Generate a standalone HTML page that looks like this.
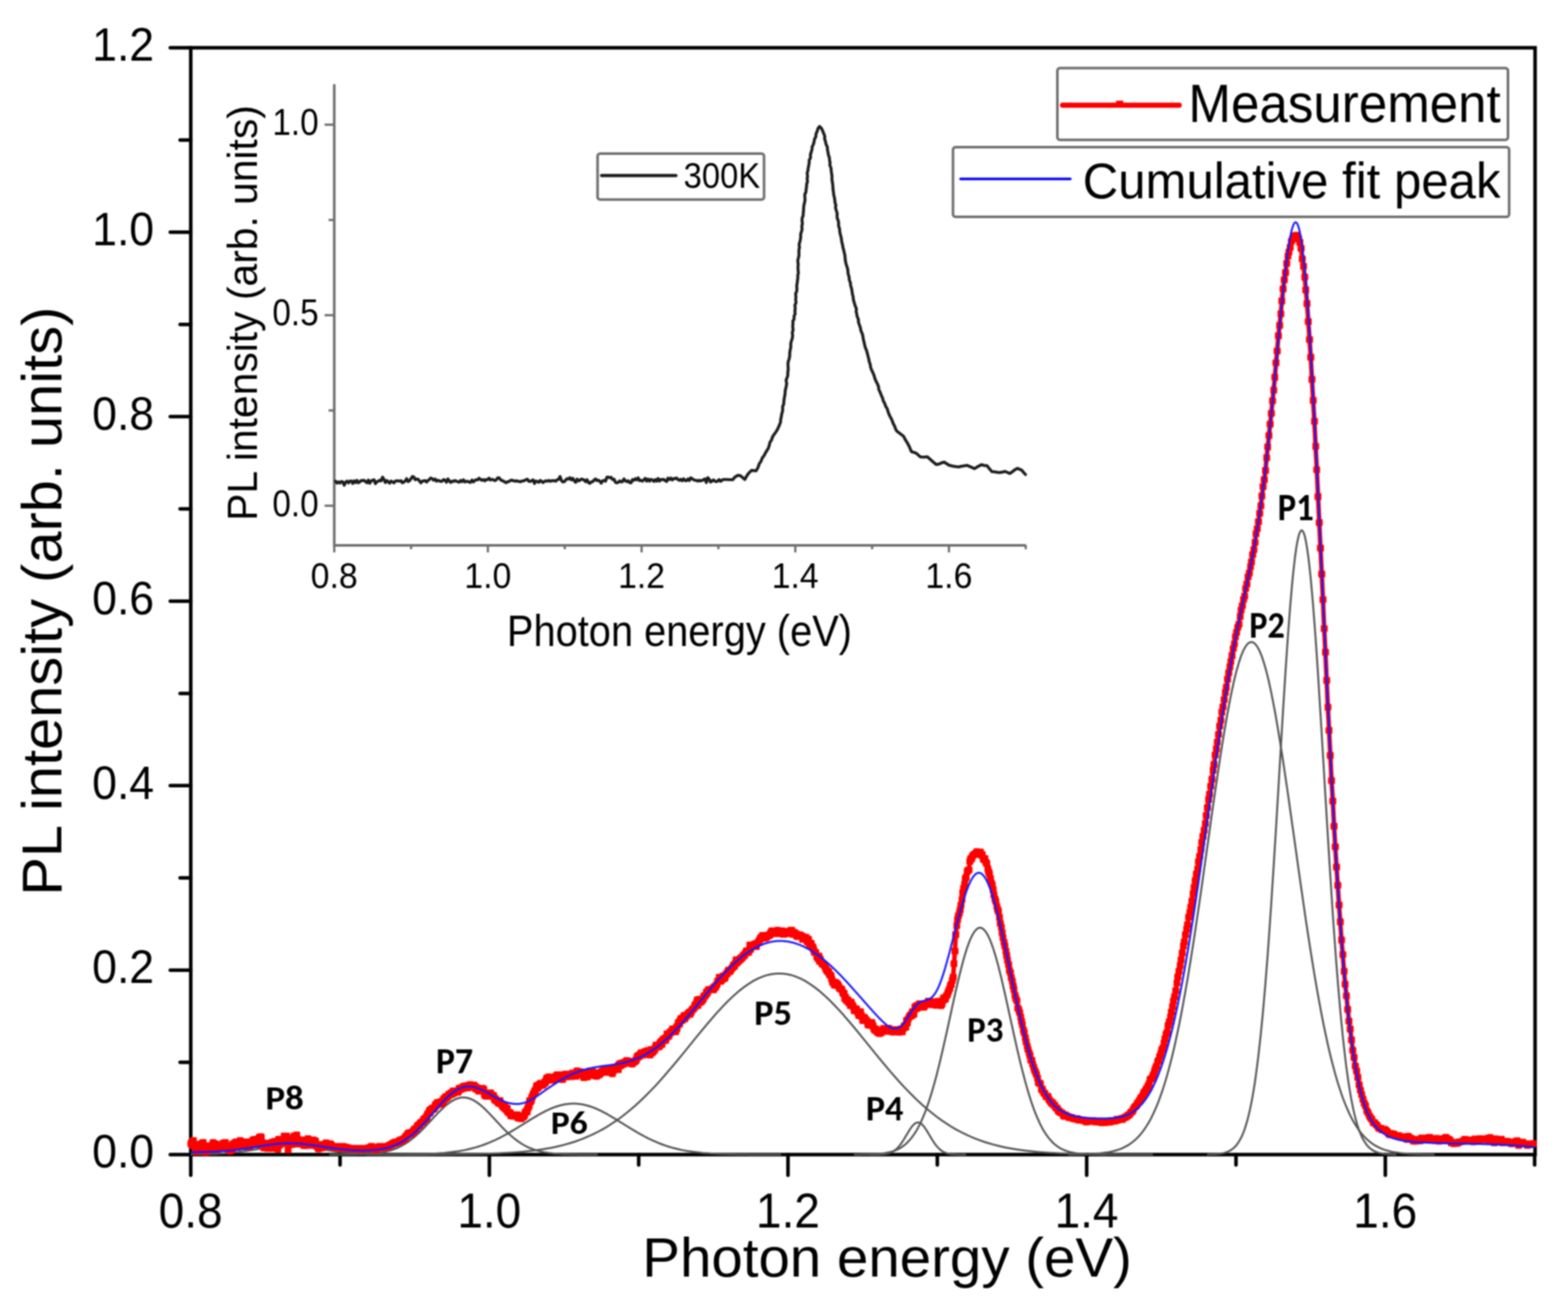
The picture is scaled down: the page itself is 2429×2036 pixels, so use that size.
<!DOCTYPE html>
<html><head><meta charset="utf-8"><style>
html,body{margin:0;padding:0;background:#fff;overflow:hidden;}
svg{display:block;filter:blur(0.9px);}
text{font-family:'Liberation Sans', Arial, sans-serif;fill:#000;}
text.pb{font-family:Carlito, 'Liberation Sans', sans-serif;font-weight:bold;}
</style></head><body>
<svg xmlns="http://www.w3.org/2000/svg" width="2429" height="2036" viewBox="0 0 2429 2036">
<rect width="2429" height="2036" fill="#fff"/>
<rect x="295.5" y="74" width="2082.5" height="1715.0" fill="none" stroke="#000" stroke-width="5.5"/>
<line x1="263.8" y1="1789.0" x2="295.5" y2="1789.0" stroke="#000" stroke-width="5.5" stroke-linecap="round"/>
<line x1="279" y1="1646.1" x2="295.5" y2="1646.1" stroke="#000" stroke-width="5.5" stroke-linecap="round"/>
<line x1="263.8" y1="1503.2" x2="295.5" y2="1503.2" stroke="#000" stroke-width="5.5" stroke-linecap="round"/>
<line x1="279" y1="1360.2" x2="295.5" y2="1360.2" stroke="#000" stroke-width="5.5" stroke-linecap="round"/>
<line x1="263.8" y1="1217.3" x2="295.5" y2="1217.3" stroke="#000" stroke-width="5.5" stroke-linecap="round"/>
<line x1="279" y1="1074.4" x2="295.5" y2="1074.4" stroke="#000" stroke-width="5.5" stroke-linecap="round"/>
<line x1="263.8" y1="931.5" x2="295.5" y2="931.5" stroke="#000" stroke-width="5.5" stroke-linecap="round"/>
<line x1="279" y1="788.6" x2="295.5" y2="788.6" stroke="#000" stroke-width="5.5" stroke-linecap="round"/>
<line x1="263.8" y1="645.6" x2="295.5" y2="645.6" stroke="#000" stroke-width="5.5" stroke-linecap="round"/>
<line x1="279" y1="502.7" x2="295.5" y2="502.7" stroke="#000" stroke-width="5.5" stroke-linecap="round"/>
<line x1="263.8" y1="359.8" x2="295.5" y2="359.8" stroke="#000" stroke-width="5.5" stroke-linecap="round"/>
<line x1="279" y1="216.9" x2="295.5" y2="216.9" stroke="#000" stroke-width="5.5" stroke-linecap="round"/>
<line x1="263.8" y1="74.0" x2="295.5" y2="74.0" stroke="#000" stroke-width="5.5" stroke-linecap="round"/>
<line x1="295.5" y1="1789.0" x2="295.5" y2="1821" stroke="#000" stroke-width="5.5" stroke-linecap="round"/>
<line x1="526.8" y1="1789.0" x2="526.8" y2="1805" stroke="#000" stroke-width="5.5" stroke-linecap="round"/>
<line x1="758.1" y1="1789.0" x2="758.1" y2="1821" stroke="#000" stroke-width="5.5" stroke-linecap="round"/>
<line x1="989.4" y1="1789.0" x2="989.4" y2="1805" stroke="#000" stroke-width="5.5" stroke-linecap="round"/>
<line x1="1220.7" y1="1789.0" x2="1220.7" y2="1821" stroke="#000" stroke-width="5.5" stroke-linecap="round"/>
<line x1="1452.0" y1="1789.0" x2="1452.0" y2="1805" stroke="#000" stroke-width="5.5" stroke-linecap="round"/>
<line x1="1683.4" y1="1789.0" x2="1683.4" y2="1821" stroke="#000" stroke-width="5.5" stroke-linecap="round"/>
<line x1="1914.7" y1="1789.0" x2="1914.7" y2="1805" stroke="#000" stroke-width="5.5" stroke-linecap="round"/>
<line x1="2146.0" y1="1789.0" x2="2146.0" y2="1821" stroke="#000" stroke-width="5.5" stroke-linecap="round"/>
<line x1="2377.3" y1="1789.0" x2="2377.3" y2="1805" stroke="#000" stroke-width="5.5" stroke-linecap="round"/>
<path d="M517.8,132 V845 H1588" fill="none" stroke="#6e6e6e" stroke-width="4" stroke-linecap="round"/>
<line x1="502.8" y1="783.6" x2="517.8" y2="783.6" stroke="#6e6e6e" stroke-width="3.5"/>
<line x1="509" y1="636.0" x2="517.8" y2="636.0" stroke="#6e6e6e" stroke-width="3.5"/>
<line x1="502.8" y1="488.4" x2="517.8" y2="488.4" stroke="#6e6e6e" stroke-width="3.5"/>
<line x1="509" y1="340.8" x2="517.8" y2="340.8" stroke="#6e6e6e" stroke-width="3.5"/>
<line x1="502.8" y1="193.2" x2="517.8" y2="193.2" stroke="#6e6e6e" stroke-width="3.5"/>
<line x1="517.8" y1="845" x2="517.8" y2="856" stroke="#6e6e6e" stroke-width="3.5"/>
<line x1="636.8" y1="845" x2="636.8" y2="851" stroke="#6e6e6e" stroke-width="3.5"/>
<line x1="755.8" y1="845" x2="755.8" y2="856" stroke="#6e6e6e" stroke-width="3.5"/>
<line x1="874.9" y1="845" x2="874.9" y2="851" stroke="#6e6e6e" stroke-width="3.5"/>
<line x1="993.9" y1="845" x2="993.9" y2="856" stroke="#6e6e6e" stroke-width="3.5"/>
<line x1="1112.9" y1="845" x2="1112.9" y2="851" stroke="#6e6e6e" stroke-width="3.5"/>
<line x1="1232.0" y1="845" x2="1232.0" y2="856" stroke="#6e6e6e" stroke-width="3.5"/>
<line x1="1351.0" y1="845" x2="1351.0" y2="851" stroke="#6e6e6e" stroke-width="3.5"/>
<line x1="1470.0" y1="845" x2="1470.0" y2="856" stroke="#6e6e6e" stroke-width="3.5"/>
<line x1="1589.0" y1="845" x2="1589.0" y2="851" stroke="#6e6e6e" stroke-width="3.5"/>
<rect x="925.7" y="237.9" width="257.9" height="71.4" rx="4" fill="#fff" stroke="#6e6e6e" stroke-width="4"/>
<line x1="932" y1="272.1" x2="1047" y2="272.1" stroke="#1a1a1a" stroke-width="5" stroke-linecap="round"/>
<rect x="1638" y="105.5" width="698" height="111.3" rx="4" fill="#fff" stroke="#6e6e6e" stroke-width="4"/>
<line x1="1646" y1="163" x2="1826.7" y2="163" stroke="#ff0000" stroke-width="8" stroke-linecap="round"/>
<rect x="1729" y="156" width="11" height="11" fill="#ff0000"/>
<rect x="1476.3" y="228" width="861.5" height="108" rx="4" fill="#fff" stroke="#6e6e6e" stroke-width="4"/>
<line x1="1488" y1="277.3" x2="1658" y2="277.3" stroke="#0000ff" stroke-width="4" stroke-linecap="round"/>
<defs><marker id="sq" markerUnits="userSpaceOnUse" markerWidth="11" markerHeight="11" refX="5.5" refY="5.5" orient="0"><rect width="11" height="11" rx="2.5" fill="#ff0000"/></marker></defs>
<path d="M1869.7,1788.9 L1871.6,1788.8 L1873.4,1788.8 L1875.3,1788.7 L1877.1,1788.7 L1879.0,1788.6 L1880.8,1788.5 L1882.7,1788.4 L1884.5,1788.2 L1886.4,1788.1 L1888.2,1787.9 L1890.0,1787.6 L1891.9,1787.3 L1893.7,1787.0 L1895.6,1786.6 L1897.4,1786.1 L1899.3,1785.5 L1901.1,1784.8 L1903.0,1784.1 L1904.8,1783.1 L1906.7,1782.1 L1908.5,1780.8 L1910.3,1779.4 L1912.2,1777.8 L1914.0,1775.9 L1915.9,1773.7 L1917.7,1771.2 L1919.6,1768.3 L1921.4,1765.1 L1923.3,1761.5 L1925.1,1757.3 L1927.0,1752.7 L1928.8,1747.5 L1930.6,1741.7 L1932.5,1735.2 L1934.3,1728.0 L1936.2,1720.0 L1938.0,1711.2 L1939.9,1701.6 L1941.7,1690.9 L1943.6,1679.4 L1945.4,1666.8 L1947.2,1653.1 L1949.1,1638.3 L1950.9,1622.4 L1952.8,1605.3 L1954.6,1587.0 L1956.5,1567.5 L1958.3,1546.8 L1960.2,1524.9 L1962.0,1501.8 L1963.9,1477.6 L1965.7,1452.3 L1967.5,1426.0 L1969.4,1398.6 L1971.2,1370.4 L1973.1,1341.4 L1974.9,1311.8 L1976.8,1281.5 L1978.6,1250.9 L1980.5,1220.0 L1982.3,1189.0 L1984.2,1158.1 L1986.0,1127.5 L1987.8,1097.3 L1989.7,1067.7 L1991.5,1038.9 L1993.4,1011.2 L1995.2,984.7 L1997.1,959.7 L1998.9,936.2 L2000.8,914.5 L2002.6,894.7 L2004.5,877.1 L2006.3,861.7 L2008.1,848.7 L2010.0,838.1 L2011.8,830.1 L2013.7,824.7 L2015.5,822.1 L2017.4,822.1 L2019.2,824.7 L2021.1,830.1 L2022.9,838.1 L2024.7,848.7 L2026.6,861.7 L2028.4,877.1 L2030.3,894.7 L2032.1,914.5 L2034.0,936.2 L2035.8,959.7 L2037.7,984.7 L2039.5,1011.2 L2041.4,1038.9 L2043.2,1067.7 L2045.0,1097.3 L2046.9,1127.5 L2048.7,1158.1 L2050.6,1189.0 L2052.4,1220.0 L2054.3,1250.9 L2056.1,1281.5 L2058.0,1311.8 L2059.8,1341.4 L2061.7,1370.4 L2063.5,1398.6 L2065.3,1426.0 L2067.2,1452.3 L2069.0,1477.6 L2070.9,1501.8 L2072.7,1524.9 L2074.6,1546.8 L2076.4,1567.5 L2078.3,1587.0 L2080.1,1605.3 L2082.0,1622.4 L2083.8,1638.3 L2085.6,1653.1 L2087.5,1666.8 L2089.3,1679.4 L2091.2,1690.9 L2093.0,1701.6 L2094.9,1711.2 L2096.7,1720.0 L2098.6,1728.0 L2100.4,1735.2 L2102.3,1741.7 L2104.1,1747.5 L2105.9,1752.7 L2107.8,1757.3 L2109.6,1761.5 L2111.5,1765.1 L2113.3,1768.3 L2115.2,1771.2 L2117.0,1773.7 L2118.9,1775.9 L2120.7,1777.8 L2122.5,1779.4 L2124.4,1780.8 L2126.2,1782.1 L2128.1,1783.1 L2129.9,1784.1 L2131.8,1784.8 L2133.6,1785.5 L2135.5,1786.1 L2137.3,1786.6 L2139.2,1787.0 L2141.0,1787.3 L2142.8,1787.6 L2144.7,1787.9 L2146.5,1788.1 L2148.4,1788.2 L2150.2,1788.4 L2152.1,1788.5 L2153.9,1788.6 L2155.8,1788.7 L2157.6,1788.7 L2159.5,1788.8 L2161.3,1788.8 L2163.1,1788.9" fill="none" stroke="#555" stroke-width="3"/>
<path d="M1654.8,1788.9 L1658.4,1788.9 L1662.0,1788.8 L1665.5,1788.8 L1669.1,1788.7 L1672.7,1788.7 L1676.2,1788.6 L1679.8,1788.5 L1683.4,1788.4 L1686.9,1788.2 L1690.5,1788.1 L1694.1,1787.9 L1697.6,1787.6 L1701.2,1787.3 L1704.8,1787.0 L1708.3,1786.6 L1711.9,1786.1 L1715.5,1785.6 L1719.0,1784.9 L1722.6,1784.2 L1726.2,1783.3 L1729.8,1782.3 L1733.3,1781.1 L1736.9,1779.8 L1740.5,1778.2 L1744.0,1776.4 L1747.6,1774.4 L1751.2,1772.0 L1754.7,1769.4 L1758.3,1766.4 L1761.9,1763.0 L1765.4,1759.2 L1769.0,1754.9 L1772.6,1750.1 L1776.1,1744.8 L1779.7,1738.9 L1783.3,1732.4 L1786.8,1725.1 L1790.4,1717.2 L1794.0,1708.5 L1797.5,1699.0 L1801.1,1688.6 L1804.7,1677.4 L1808.3,1665.2 L1811.8,1652.2 L1815.4,1638.1 L1819.0,1623.1 L1822.5,1607.1 L1826.1,1590.1 L1829.7,1572.1 L1833.2,1553.2 L1836.8,1533.3 L1840.4,1512.5 L1843.9,1490.9 L1847.5,1468.4 L1851.1,1445.3 L1854.6,1421.5 L1858.2,1397.1 L1861.8,1372.3 L1865.3,1347.1 L1868.9,1321.7 L1872.5,1296.3 L1876.0,1270.9 L1879.6,1245.7 L1883.2,1220.9 L1886.8,1196.6 L1890.3,1173.0 L1893.9,1150.3 L1897.5,1128.5 L1901.0,1107.9 L1904.6,1088.7 L1908.2,1070.8 L1911.7,1054.6 L1915.3,1040.1 L1918.9,1027.5 L1922.4,1016.8 L1926.0,1008.1 L1929.6,1001.5 L1933.1,997.1 L1936.7,994.9 L1940.3,994.9 L1943.8,997.1 L1947.4,1001.5 L1951.0,1008.1 L1954.6,1016.8 L1958.1,1027.5 L1961.7,1040.1 L1965.3,1054.6 L1968.8,1070.8 L1972.4,1088.7 L1976.0,1107.9 L1979.5,1128.5 L1983.1,1150.3 L1986.7,1173.0 L1990.2,1196.6 L1993.8,1220.9 L1997.4,1245.7 L2000.9,1270.9 L2004.5,1296.3 L2008.1,1321.7 L2011.6,1347.1 L2015.2,1372.3 L2018.8,1397.1 L2022.3,1421.5 L2025.9,1445.3 L2029.5,1468.4 L2033.1,1490.9 L2036.6,1512.5 L2040.2,1533.3 L2043.8,1553.2 L2047.3,1572.1 L2050.9,1590.1 L2054.5,1607.1 L2058.0,1623.1 L2061.6,1638.1 L2065.2,1652.2 L2068.7,1665.2 L2072.3,1677.4 L2075.9,1688.6 L2079.4,1699.0 L2083.0,1708.5 L2086.6,1717.2 L2090.1,1725.1 L2093.7,1732.4 L2097.3,1738.9 L2100.9,1744.8 L2104.4,1750.1 L2108.0,1754.9 L2111.6,1759.2 L2115.1,1763.0 L2118.7,1766.4 L2122.3,1769.4 L2125.8,1772.0 L2129.4,1774.4 L2133.0,1776.4 L2136.5,1778.2 L2140.1,1779.8 L2143.7,1781.1 L2147.2,1782.3 L2150.8,1783.3 L2154.4,1784.2 L2157.9,1784.9 L2161.5,1785.6 L2165.1,1786.1 L2168.6,1786.6 L2172.2,1787.0 L2175.8,1787.3 L2179.4,1787.6 L2182.9,1787.9 L2186.5,1788.1 L2190.1,1788.2 L2193.6,1788.4 L2197.2,1788.5 L2200.8,1788.6 L2204.3,1788.7 L2207.9,1788.7 L2211.5,1788.8 L2215.0,1788.8 L2218.6,1788.9 L2222.2,1788.9" fill="none" stroke="#555" stroke-width="3"/>
<path d="M1322.9,1788.9 L1325.4,1788.9 L1327.8,1788.9 L1330.3,1788.9 L1332.8,1788.9 L1335.2,1788.8 L1337.7,1788.8 L1340.1,1788.8 L1342.6,1788.7 L1345.0,1788.7 L1347.5,1788.6 L1350.0,1788.5 L1352.4,1788.4 L1354.9,1788.3 L1357.3,1788.1 L1359.8,1787.9 L1362.2,1787.7 L1364.7,1787.5 L1367.1,1787.2 L1369.6,1786.9 L1372.1,1786.5 L1374.5,1786.0 L1377.0,1785.5 L1379.4,1784.9 L1381.9,1784.2 L1384.3,1783.4 L1386.8,1782.5 L1389.3,1781.5 L1391.7,1780.3 L1394.2,1779.0 L1396.6,1777.5 L1399.1,1775.8 L1401.5,1773.9 L1404.0,1771.8 L1406.4,1769.4 L1408.9,1766.8 L1411.4,1763.9 L1413.8,1760.7 L1416.3,1757.2 L1418.7,1753.4 L1421.2,1749.2 L1423.6,1744.6 L1426.1,1739.6 L1428.6,1734.2 L1431.0,1728.4 L1433.5,1722.2 L1435.9,1715.6 L1438.4,1708.5 L1440.8,1701.0 L1443.3,1693.0 L1445.7,1684.6 L1448.2,1675.8 L1450.7,1666.6 L1453.1,1657.0 L1455.6,1647.1 L1458.0,1636.9 L1460.5,1626.3 L1462.9,1615.5 L1465.4,1604.6 L1467.9,1593.4 L1470.3,1582.2 L1472.8,1570.9 L1475.2,1559.7 L1477.7,1548.5 L1480.1,1537.6 L1482.6,1526.8 L1485.0,1516.4 L1487.5,1506.3 L1490.0,1496.7 L1492.4,1487.6 L1494.9,1479.0 L1497.3,1471.1 L1499.8,1464.0 L1502.2,1457.5 L1504.7,1451.9 L1507.2,1447.2 L1509.6,1443.4 L1512.1,1440.5 L1514.5,1438.5 L1517.0,1437.5 L1519.4,1437.5 L1521.9,1438.5 L1524.3,1440.5 L1526.8,1443.4 L1529.3,1447.2 L1531.7,1451.9 L1534.2,1457.5 L1536.6,1464.0 L1539.1,1471.1 L1541.5,1479.0 L1544.0,1487.6 L1546.5,1496.7 L1548.9,1506.3 L1551.4,1516.4 L1553.8,1526.8 L1556.3,1537.6 L1558.7,1548.5 L1561.2,1559.7 L1563.6,1570.9 L1566.1,1582.2 L1568.6,1593.4 L1571.0,1604.6 L1573.5,1615.5 L1575.9,1626.3 L1578.4,1636.9 L1580.8,1647.1 L1583.3,1657.0 L1585.8,1666.6 L1588.2,1675.8 L1590.7,1684.6 L1593.1,1693.0 L1595.6,1701.0 L1598.0,1708.5 L1600.5,1715.6 L1602.9,1722.2 L1605.4,1728.4 L1607.9,1734.2 L1610.3,1739.6 L1612.8,1744.6 L1615.2,1749.2 L1617.7,1753.4 L1620.1,1757.2 L1622.6,1760.7 L1625.1,1763.9 L1627.5,1766.8 L1630.0,1769.4 L1632.4,1771.8 L1634.9,1773.9 L1637.3,1775.8 L1639.8,1777.5 L1642.2,1779.0 L1644.7,1780.3 L1647.2,1781.5 L1649.6,1782.5 L1652.1,1783.4 L1654.5,1784.2 L1657.0,1784.9 L1659.4,1785.5 L1661.9,1786.0 L1664.4,1786.5 L1666.8,1786.9 L1669.3,1787.2 L1671.7,1787.5 L1674.2,1787.7 L1676.6,1787.9 L1679.1,1788.1 L1681.5,1788.3 L1684.0,1788.4 L1686.5,1788.5 L1688.9,1788.6 L1691.4,1788.7 L1693.8,1788.7 L1696.3,1788.8 L1698.7,1788.8 L1701.2,1788.8 L1703.7,1788.9 L1706.1,1788.9 L1708.6,1788.9 L1711.0,1788.9 L1713.5,1788.9" fill="none" stroke="#555" stroke-width="3"/>
<path d="M1347.2,1789.0 L1348.1,1789.0 L1349.1,1789.0 L1350.0,1789.0 L1350.9,1789.0 L1351.9,1789.0 L1352.8,1789.0 L1353.8,1789.0 L1354.7,1789.0 L1355.6,1789.0 L1356.6,1788.9 L1357.5,1788.9 L1358.5,1788.9 L1359.4,1788.9 L1360.3,1788.9 L1361.3,1788.9 L1362.2,1788.8 L1363.2,1788.8 L1364.1,1788.7 L1365.1,1788.7 L1366.0,1788.6 L1366.9,1788.6 L1367.9,1788.5 L1368.8,1788.4 L1369.8,1788.3 L1370.7,1788.2 L1371.6,1788.1 L1372.6,1787.9 L1373.5,1787.8 L1374.5,1787.6 L1375.4,1787.4 L1376.3,1787.1 L1377.3,1786.9 L1378.2,1786.6 L1379.2,1786.2 L1380.1,1785.9 L1381.0,1785.5 L1382.0,1785.0 L1382.9,1784.5 L1383.9,1784.0 L1384.8,1783.4 L1385.8,1782.7 L1386.7,1782.0 L1387.6,1781.3 L1388.6,1780.4 L1389.5,1779.6 L1390.5,1778.6 L1391.4,1777.6 L1392.3,1776.5 L1393.3,1775.4 L1394.2,1774.2 L1395.2,1773.0 L1396.1,1771.7 L1397.0,1770.3 L1398.0,1768.9 L1398.9,1767.5 L1399.9,1766.0 L1400.8,1764.5 L1401.7,1762.9 L1402.7,1761.3 L1403.6,1759.7 L1404.6,1758.2 L1405.5,1756.6 L1406.5,1755.0 L1407.4,1753.4 L1408.3,1751.9 L1409.3,1750.4 L1410.2,1749.0 L1411.2,1747.6 L1412.1,1746.4 L1413.0,1745.1 L1414.0,1744.0 L1414.9,1743.0 L1415.9,1742.1 L1416.8,1741.3 L1417.7,1740.6 L1418.7,1740.1 L1419.6,1739.7 L1420.6,1739.4 L1421.5,1739.3 L1422.5,1739.3 L1423.4,1739.4 L1424.3,1739.7 L1425.3,1740.1 L1426.2,1740.6 L1427.2,1741.3 L1428.1,1742.1 L1429.0,1743.0 L1430.0,1744.0 L1430.9,1745.1 L1431.9,1746.4 L1432.8,1747.6 L1433.7,1749.0 L1434.7,1750.4 L1435.6,1751.9 L1436.6,1753.4 L1437.5,1755.0 L1438.4,1756.6 L1439.4,1758.2 L1440.3,1759.7 L1441.3,1761.3 L1442.2,1762.9 L1443.2,1764.5 L1444.1,1766.0 L1445.0,1767.5 L1446.0,1768.9 L1446.9,1770.3 L1447.9,1771.7 L1448.8,1773.0 L1449.7,1774.2 L1450.7,1775.4 L1451.6,1776.5 L1452.6,1777.6 L1453.5,1778.6 L1454.4,1779.6 L1455.4,1780.4 L1456.3,1781.3 L1457.3,1782.0 L1458.2,1782.7 L1459.1,1783.4 L1460.1,1784.0 L1461.0,1784.5 L1462.0,1785.0 L1462.9,1785.5 L1463.9,1785.9 L1464.8,1786.2 L1465.7,1786.6 L1466.7,1786.9 L1467.6,1787.1 L1468.6,1787.4 L1469.5,1787.6 L1470.4,1787.8 L1471.4,1787.9 L1472.3,1788.1 L1473.3,1788.2 L1474.2,1788.3 L1475.1,1788.4 L1476.1,1788.5 L1477.0,1788.6 L1478.0,1788.6 L1478.9,1788.7 L1479.8,1788.7 L1480.8,1788.8 L1481.7,1788.8 L1482.7,1788.9 L1483.6,1788.9 L1484.6,1788.9 L1485.5,1788.9 L1486.4,1788.9 L1487.4,1788.9 L1488.3,1789.0 L1489.3,1789.0 L1490.2,1789.0 L1491.1,1789.0 L1492.1,1789.0 L1493.0,1789.0 L1494.0,1789.0 L1494.9,1789.0 L1495.8,1789.0 L1496.8,1789.0" fill="none" stroke="#555" stroke-width="3"/>
<path d="M628.1,1789.0 L635.4,1788.9 L642.6,1788.9 L649.9,1788.9 L657.2,1788.9 L664.5,1788.9 L671.8,1788.9 L679.1,1788.8 L686.3,1788.8 L693.6,1788.7 L700.9,1788.7 L708.2,1788.6 L715.5,1788.5 L722.8,1788.4 L730.0,1788.3 L737.3,1788.2 L744.6,1788.0 L751.9,1787.8 L759.2,1787.6 L766.5,1787.3 L773.7,1787.0 L781.0,1786.6 L788.3,1786.2 L795.6,1785.7 L802.9,1785.2 L810.2,1784.6 L817.4,1783.8 L824.7,1783.0 L832.0,1782.1 L839.3,1781.0 L846.6,1779.8 L853.9,1778.5 L861.1,1777.0 L868.4,1775.3 L875.7,1773.4 L883.0,1771.3 L890.3,1769.0 L897.6,1766.4 L904.8,1763.6 L912.1,1760.5 L919.4,1757.2 L926.7,1753.5 L934.0,1749.6 L941.3,1745.3 L948.5,1740.6 L955.8,1735.7 L963.1,1730.4 L970.4,1724.7 L977.7,1718.7 L985.0,1712.4 L992.2,1705.7 L999.5,1698.6 L1006.8,1691.3 L1014.1,1683.7 L1021.4,1675.7 L1028.7,1667.5 L1035.9,1659.1 L1043.2,1650.5 L1050.5,1641.7 L1057.8,1632.9 L1065.1,1623.9 L1072.4,1614.9 L1079.6,1605.9 L1086.9,1597.0 L1094.2,1588.3 L1101.5,1579.7 L1108.8,1571.3 L1116.1,1563.3 L1123.3,1555.6 L1130.6,1548.3 L1137.9,1541.5 L1145.2,1535.2 L1152.5,1529.5 L1159.8,1524.4 L1167.0,1519.9 L1174.3,1516.1 L1181.6,1513.1 L1188.9,1510.7 L1196.2,1509.2 L1203.5,1508.4 L1210.7,1508.4 L1218.0,1509.2 L1225.3,1510.7 L1232.6,1513.1 L1239.9,1516.1 L1247.2,1519.9 L1254.4,1524.4 L1261.7,1529.5 L1269.0,1535.2 L1276.3,1541.5 L1283.6,1548.3 L1290.8,1555.6 L1298.1,1563.3 L1305.4,1571.3 L1312.7,1579.7 L1320.0,1588.3 L1327.3,1597.0 L1334.5,1605.9 L1341.8,1614.9 L1349.1,1623.9 L1356.4,1632.9 L1363.7,1641.7 L1371.0,1650.5 L1378.2,1659.1 L1385.5,1667.5 L1392.8,1675.7 L1400.1,1683.7 L1407.4,1691.3 L1414.7,1698.6 L1421.9,1705.7 L1429.2,1712.4 L1436.5,1718.7 L1443.8,1724.7 L1451.1,1730.4 L1458.4,1735.7 L1465.6,1740.6 L1472.9,1745.3 L1480.2,1749.6 L1487.5,1753.5 L1494.8,1757.2 L1502.1,1760.5 L1509.3,1763.6 L1516.6,1766.4 L1523.9,1769.0 L1531.2,1771.3 L1538.5,1773.4 L1545.8,1775.3 L1553.0,1777.0 L1560.3,1778.5 L1567.6,1779.8 L1574.9,1781.0 L1582.2,1782.1 L1589.5,1783.0 L1596.7,1783.8 L1604.0,1784.6 L1611.3,1785.2 L1618.6,1785.7 L1625.9,1786.2 L1633.2,1786.6 L1640.4,1787.0 L1647.7,1787.3 L1655.0,1787.6 L1662.3,1787.8 L1669.6,1788.0 L1676.9,1788.2 L1684.1,1788.3 L1691.4,1788.4 L1698.7,1788.5 L1706.0,1788.6 L1713.3,1788.7 L1720.6,1788.7 L1727.8,1788.8 L1735.1,1788.8 L1742.4,1788.9 L1749.7,1788.9 L1757.0,1788.9 L1764.3,1788.9 L1771.5,1788.9 L1778.8,1788.9 L1786.1,1789.0" fill="none" stroke="#555" stroke-width="3"/>
<path d="M566.8,1789.0 L570.8,1789.0 L574.9,1789.0 L578.9,1789.0 L583.0,1789.0 L587.0,1789.0 L591.0,1789.0 L595.1,1788.9 L599.1,1788.9 L603.2,1788.9 L607.2,1788.9 L611.3,1788.9 L615.3,1788.9 L619.4,1788.8 L623.4,1788.8 L627.5,1788.8 L631.5,1788.7 L635.5,1788.7 L639.6,1788.6 L643.6,1788.5 L647.7,1788.4 L651.7,1788.3 L655.8,1788.2 L659.8,1788.1 L663.9,1787.9 L667.9,1787.7 L671.9,1787.5 L676.0,1787.3 L680.0,1787.0 L684.1,1786.7 L688.1,1786.4 L692.2,1786.0 L696.2,1785.6 L700.3,1785.1 L704.3,1784.6 L708.4,1784.0 L712.4,1783.4 L716.4,1782.6 L720.5,1781.9 L724.5,1781.0 L728.6,1780.0 L732.6,1779.0 L736.7,1777.9 L740.7,1776.7 L744.8,1775.4 L748.8,1774.0 L752.8,1772.5 L756.9,1770.9 L760.9,1769.2 L765.0,1767.4 L769.0,1765.5 L773.1,1763.6 L777.1,1761.5 L781.2,1759.3 L785.2,1757.1 L789.2,1754.8 L793.3,1752.4 L797.3,1750.0 L801.4,1747.5 L805.4,1745.0 L809.5,1742.5 L813.5,1740.0 L817.6,1737.5 L821.6,1734.9 L825.7,1732.5 L829.7,1730.1 L833.7,1727.7 L837.8,1725.4 L841.8,1723.3 L845.9,1721.2 L849.9,1719.3 L854.0,1717.5 L858.0,1715.9 L862.1,1714.5 L866.1,1713.2 L870.1,1712.2 L874.2,1711.3 L878.2,1710.7 L882.3,1710.2 L886.3,1710.0 L890.4,1710.0 L894.4,1710.2 L898.5,1710.7 L902.5,1711.3 L906.5,1712.2 L910.6,1713.2 L914.6,1714.5 L918.7,1715.9 L922.7,1717.5 L926.8,1719.3 L930.8,1721.2 L934.9,1723.3 L938.9,1725.4 L943.0,1727.7 L947.0,1730.1 L951.0,1732.5 L955.1,1734.9 L959.1,1737.5 L963.2,1740.0 L967.2,1742.5 L971.3,1745.0 L975.3,1747.5 L979.4,1750.0 L983.4,1752.4 L987.4,1754.8 L991.5,1757.1 L995.5,1759.3 L999.6,1761.5 L1003.6,1763.6 L1007.7,1765.5 L1011.7,1767.4 L1015.8,1769.2 L1019.8,1770.9 L1023.9,1772.5 L1027.9,1774.0 L1031.9,1775.4 L1036.0,1776.7 L1040.0,1777.9 L1044.1,1779.0 L1048.1,1780.0 L1052.2,1781.0 L1056.2,1781.9 L1060.3,1782.6 L1064.3,1783.4 L1068.3,1784.0 L1072.4,1784.6 L1076.4,1785.1 L1080.5,1785.6 L1084.5,1786.0 L1088.6,1786.4 L1092.6,1786.7 L1096.7,1787.0 L1100.7,1787.3 L1104.7,1787.5 L1108.8,1787.7 L1112.8,1787.9 L1116.9,1788.1 L1120.9,1788.2 L1125.0,1788.3 L1129.0,1788.4 L1133.1,1788.5 L1137.1,1788.6 L1141.2,1788.7 L1145.2,1788.7 L1149.2,1788.8 L1153.3,1788.8 L1157.3,1788.8 L1161.4,1788.9 L1165.4,1788.9 L1169.5,1788.9 L1173.5,1788.9 L1177.6,1788.9 L1181.6,1788.9 L1185.6,1789.0 L1189.7,1789.0 L1193.7,1789.0 L1197.8,1789.0 L1201.8,1789.0 L1205.9,1789.0 L1209.9,1789.0" fill="none" stroke="#555" stroke-width="3"/>
<path d="M510.0,1789.0 L512.6,1789.0 L515.2,1789.0 L517.8,1789.0 L520.4,1789.0 L523.0,1789.0 L525.7,1789.0 L528.3,1788.9 L530.9,1788.9 L533.5,1788.9 L536.1,1788.9 L538.7,1788.9 L541.4,1788.8 L544.0,1788.8 L546.6,1788.8 L549.2,1788.7 L551.8,1788.7 L554.4,1788.6 L557.0,1788.5 L559.7,1788.5 L562.3,1788.4 L564.9,1788.3 L567.5,1788.1 L570.1,1788.0 L572.7,1787.8 L575.3,1787.6 L578.0,1787.4 L580.6,1787.1 L583.2,1786.8 L585.8,1786.5 L588.4,1786.1 L591.0,1785.7 L593.7,1785.2 L596.3,1784.7 L598.9,1784.1 L601.5,1783.4 L604.1,1782.7 L606.7,1781.9 L609.3,1781.0 L612.0,1780.0 L614.6,1779.0 L617.2,1777.8 L619.8,1776.6 L622.4,1775.2 L625.0,1773.8 L627.7,1772.2 L630.3,1770.5 L632.9,1768.7 L635.5,1766.8 L638.1,1764.8 L640.7,1762.7 L643.3,1760.5 L646.0,1758.2 L648.6,1755.8 L651.2,1753.3 L653.8,1750.7 L656.4,1748.1 L659.0,1745.4 L661.6,1742.6 L664.3,1739.8 L666.9,1737.0 L669.5,1734.1 L672.1,1731.3 L674.7,1728.5 L677.3,1725.7 L680.0,1723.0 L682.6,1720.4 L685.2,1717.9 L687.8,1715.4 L690.4,1713.1 L693.0,1711.0 L695.6,1709.0 L698.3,1707.2 L700.9,1705.6 L703.5,1704.2 L706.1,1703.0 L708.7,1702.0 L711.3,1701.3 L713.9,1700.8 L716.6,1700.6 L719.2,1700.6 L721.8,1700.8 L724.4,1701.3 L727.0,1702.0 L729.6,1703.0 L732.3,1704.2 L734.9,1705.6 L737.5,1707.2 L740.1,1709.0 L742.7,1711.0 L745.3,1713.1 L747.9,1715.4 L750.6,1717.9 L753.2,1720.4 L755.8,1723.0 L758.4,1725.7 L761.0,1728.5 L763.6,1731.3 L766.3,1734.1 L768.9,1737.0 L771.5,1739.8 L774.1,1742.6 L776.7,1745.4 L779.3,1748.1 L781.9,1750.7 L784.6,1753.3 L787.2,1755.8 L789.8,1758.2 L792.4,1760.5 L795.0,1762.7 L797.6,1764.8 L800.2,1766.8 L802.9,1768.7 L805.5,1770.5 L808.1,1772.2 L810.7,1773.8 L813.3,1775.2 L815.9,1776.6 L818.6,1777.8 L821.2,1779.0 L823.8,1780.0 L826.4,1781.0 L829.0,1781.9 L831.6,1782.7 L834.2,1783.4 L836.9,1784.1 L839.5,1784.7 L842.1,1785.2 L844.7,1785.7 L847.3,1786.1 L849.9,1786.5 L852.6,1786.8 L855.2,1787.1 L857.8,1787.4 L860.4,1787.6 L863.0,1787.8 L865.6,1788.0 L868.2,1788.1 L870.9,1788.3 L873.5,1788.4 L876.1,1788.5 L878.7,1788.5 L881.3,1788.6 L883.9,1788.7 L886.5,1788.7 L889.2,1788.8 L891.8,1788.8 L894.4,1788.8 L897.0,1788.9 L899.6,1788.9 L902.2,1788.9 L904.9,1788.9 L907.5,1788.9 L910.1,1789.0 L912.7,1789.0 L915.3,1789.0 L917.9,1789.0 L920.5,1789.0 L923.2,1789.0 L925.8,1789.0" fill="none" stroke="#555" stroke-width="3"/>
<path d="M295.5,1788.8 L297.8,1788.8 L300.1,1788.8 L302.4,1788.8 L304.7,1788.7 L307.0,1788.7 L309.3,1788.7 L311.6,1788.6 L313.9,1788.6 L316.2,1788.5 L318.5,1788.5 L320.8,1788.4 L323.2,1788.3 L325.5,1788.3 L327.8,1788.2 L330.1,1788.1 L332.4,1788.0 L334.7,1787.9 L337.0,1787.8 L339.3,1787.6 L341.6,1787.5 L343.9,1787.3 L346.2,1787.2 L348.5,1787.0 L350.8,1786.8 L353.1,1786.6 L355.4,1786.4 L357.7,1786.2 L360.0,1786.0 L362.3,1785.7 L364.6,1785.5 L366.9,1785.2 L369.2,1784.9 L371.5,1784.6 L373.8,1784.3 L376.2,1784.0 L378.5,1783.7 L380.8,1783.4 L383.1,1783.0 L385.4,1782.7 L387.7,1782.3 L390.0,1781.9 L392.3,1781.6 L394.6,1781.2 L396.9,1780.8 L399.2,1780.5 L401.5,1780.1 L403.8,1779.7 L406.1,1779.4 L408.4,1779.0 L410.7,1778.6 L413.0,1778.3 L415.3,1778.0 L417.6,1777.7 L419.9,1777.4 L422.2,1777.1 L424.5,1776.8 L426.8,1776.6 L429.2,1776.3 L431.5,1776.1 L433.8,1776.0 L436.1,1775.8 L438.4,1775.7 L440.7,1775.6 L443.0,1775.5 L445.3,1775.4 L447.6,1775.4 L449.9,1775.4 L452.2,1775.5 L454.5,1775.5 L456.8,1775.6 L459.1,1775.7 L461.4,1775.9 L463.7,1776.0 L466.0,1776.2 L468.3,1776.4 L470.6,1776.7 L472.9,1776.9 L475.2,1777.2 L477.5,1777.5 L479.8,1777.8 L482.2,1778.1 L484.5,1778.5 L486.8,1778.8 L489.1,1779.2 L491.4,1779.5 L493.7,1779.9 L496.0,1780.3 L498.3,1780.6 L500.6,1781.0 L502.9,1781.4 L505.2,1781.8 L507.5,1782.1 L509.8,1782.5 L512.1,1782.8 L514.4,1783.2 L516.7,1783.5 L519.0,1783.9 L521.3,1784.2 L523.6,1784.5 L525.9,1784.8 L528.2,1785.1 L530.5,1785.3 L532.9,1785.6 L535.2,1785.9 L537.5,1786.1 L539.8,1786.3 L542.1,1786.5 L544.4,1786.7 L546.7,1786.9 L549.0,1787.1 L551.3,1787.3 L553.6,1787.4 L555.9,1787.6 L558.2,1787.7 L560.5,1787.8 L562.8,1787.9 L565.1,1788.0 L567.4,1788.1 L569.7,1788.2 L572.0,1788.3 L574.3,1788.4 L576.6,1788.4 L578.9,1788.5 L581.2,1788.6 L583.5,1788.6 L585.9,1788.7 L588.2,1788.7 L590.5,1788.7 L592.8,1788.8 L595.1,1788.8 L597.4,1788.8 L599.7,1788.8 L602.0,1788.9 L604.3,1788.9 L606.6,1788.9 L608.9,1788.9 L611.2,1788.9 L613.5,1788.9 L615.8,1788.9 L618.1,1788.9 L620.4,1789.0 L622.7,1789.0 L625.0,1789.0 L627.3,1789.0 L629.6,1789.0 L631.9,1789.0 L634.2,1789.0 L636.5,1789.0 L638.9,1789.0 L641.2,1789.0 L643.5,1789.0 L645.8,1789.0 L648.1,1789.0 L650.4,1789.0 L652.7,1789.0 L655.0,1789.0 L657.3,1789.0 L659.6,1789.0 L661.9,1789.0" fill="none" stroke="#555" stroke-width="3"/>
<path d="M295.9,1772.3 L296.4,1770.8 L296.9,1771.2 L297.4,1774.1 L297.9,1774.1 L298.4,1773.8 L298.9,1768.6 L299.4,1767.2 L299.9,1773.3 L300.4,1774.3 L300.9,1773.4 L301.4,1776.7 L301.9,1776.4 L302.4,1779.6 L302.9,1780.4 L303.4,1779.4 L304.0,1784.4 L304.5,1781.4 L305.0,1783.7 L305.5,1781.1 L306.0,1781.4 L306.5,1777.7 L307.0,1779.8 L307.5,1773.4 L308.0,1774.1 L308.5,1775.4 L309.0,1780.8 L309.5,1776.1 L310.0,1775.3 L310.6,1772.9 L311.1,1775.5 L311.6,1772.8 L312.1,1775.8 L312.6,1777.3 L313.1,1771.6 L313.6,1775.9 L314.1,1772.2 L314.6,1770.4 L315.2,1777.6 L315.7,1778.5 L316.2,1777.4 L316.7,1778.7 L317.2,1781.3 L317.7,1778.9 L318.2,1775.7 L318.7,1785.2 L319.3,1780.6 L319.8,1779.6 L320.3,1781.2 L320.8,1775.7 L321.3,1778.7 L321.8,1783.1 L322.3,1779.2 L322.9,1779.9 L323.4,1781.6 L323.9,1778.1 L324.4,1780.9 L324.9,1778.5 L325.5,1777.3 L326.0,1779.6 L326.5,1775.8 L327.0,1777.7 L327.5,1776.5 L328.0,1780.4 L328.6,1778.7 L329.1,1775.9 L329.6,1773.4 L330.1,1770.6 L330.6,1777.9 L331.2,1778.0 L331.7,1774.9 L332.2,1778.8 L332.7,1775.8 L333.3,1775.0 L333.8,1772.4 L334.3,1775.0 L334.8,1779.6 L335.3,1778.8 L335.9,1779.0 L336.4,1777.2 L336.9,1781.2 L337.4,1779.3 L338.0,1779.2 L338.5,1779.5 L339.0,1778.4 L339.5,1779.9 L340.1,1777.7 L340.6,1779.0 L341.1,1773.9 L341.6,1775.4 L342.2,1777.5 L342.7,1776.0 L343.2,1778.6 L343.8,1774.8 L344.3,1775.7 L344.8,1774.0 L345.3,1776.7 L345.9,1771.1 L346.4,1775.9 L346.9,1774.4 L347.5,1771.1 L348.0,1774.1 L348.5,1773.8 L349.0,1770.3 L349.6,1776.9 L350.1,1775.6 L350.6,1775.7 L351.2,1775.0 L351.7,1778.4 L352.2,1778.3 L352.8,1777.1 L353.3,1776.2 L353.8,1780.7 L354.4,1779.0 L354.9,1780.0 L355.4,1782.3 L356.0,1780.3 L356.5,1783.6 L357.0,1777.3 L357.6,1779.0 L358.1,1777.9 L358.6,1777.2 L359.2,1776.6 L359.7,1781.6 L360.3,1778.2 L360.8,1772.6 L361.3,1777.4 L361.9,1773.0 L362.4,1776.3 L362.9,1772.0 L363.5,1774.1 L364.0,1770.8 L364.6,1770.7 L365.1,1776.1 L365.6,1769.9 L366.2,1769.3 L366.7,1774.1 L367.3,1775.5 L367.8,1775.6 L368.3,1777.3 L368.9,1772.7 L369.4,1776.6 L370.0,1773.9 L370.5,1775.8 L371.1,1774.8 L371.6,1773.3 L372.1,1767.4 L372.7,1770.4 L373.2,1769.6 L373.8,1771.2 L374.3,1773.4 L374.9,1772.1 L375.4,1775.0 L376.0,1772.7 L376.5,1773.5 L377.1,1773.8 L377.6,1776.4 L378.1,1775.4 L378.7,1769.9 L379.2,1773.2 L379.8,1774.7 L380.3,1769.8 L380.9,1769.0 L381.4,1775.3 L382.0,1774.0 L382.5,1773.5 L383.1,1775.4 L383.6,1771.0 L384.2,1772.1 L384.7,1771.5 L385.3,1776.3 L385.8,1773.3 L386.4,1776.6 L386.9,1773.5 L387.5,1774.0 L388.0,1774.7 L388.6,1769.1 L389.2,1773.9 L389.7,1772.5 L390.3,1770.1 L390.8,1769.8 L391.4,1769.5 L391.9,1766.6 L392.5,1771.4 L393.0,1770.3 L393.6,1768.9 L394.1,1765.6 L394.7,1767.7 L395.3,1769.4 L395.8,1772.9 L396.4,1773.7 L396.9,1769.0 L397.5,1769.2 L398.1,1771.4 L398.6,1770.3 L399.2,1769.9 L399.7,1768.4 L400.3,1766.1 L400.8,1768.2 L401.4,1762.9 L402.0,1769.5 L402.5,1761.8 L403.1,1764.8 L403.7,1763.2 L404.2,1761.6 L404.8,1763.1 L405.3,1771.5 L405.9,1775.0 L406.5,1770.3 L407.0,1775.8 L407.6,1774.7 L408.2,1772.3 L408.7,1778.0 L409.3,1778.5 L409.9,1772.9 L410.4,1773.1 L411.0,1772.7 L411.5,1772.8 L412.1,1774.8 L412.7,1776.9 L413.2,1772.3 L413.8,1777.1 L414.4,1779.3 L415.0,1774.7 L415.5,1775.2 L416.1,1771.3 L416.7,1773.0 L417.2,1771.9 L417.8,1774.5 L418.4,1775.5 L418.9,1773.0 L419.5,1774.5 L420.1,1771.4 L420.7,1771.6 L421.2,1769.9 L421.8,1779.3 L422.4,1771.6 L422.9,1773.1 L423.5,1771.7 L424.1,1774.5 L424.7,1771.7 L425.2,1768.8 L425.8,1772.3 L426.4,1772.7 L427.0,1775.4 L427.5,1772.6 L428.1,1772.1 L428.7,1778.7 L429.3,1772.6 L429.8,1776.8 L430.4,1780.4 L431.0,1771.9 L431.6,1765.4 L432.1,1768.1 L432.7,1769.8 L433.3,1774.3 L433.9,1766.9 L434.5,1770.3 L435.0,1771.5 L435.6,1770.3 L436.2,1768.7 L436.8,1766.0 L437.4,1765.4 L437.9,1767.8 L438.5,1771.4 L439.1,1765.8 L439.7,1766.8 L440.3,1760.1 L440.9,1765.6 L441.4,1765.1 L442.0,1765.0 L442.6,1770.0 L443.2,1763.1 L443.8,1760.4 L444.4,1768.3 L445.0,1767.6 L445.5,1771.9 L446.1,1781.4 L446.7,1771.9 L447.3,1773.4 L447.9,1772.9 L448.5,1773.2 L449.1,1773.5 L449.6,1773.5 L450.2,1770.6 L450.8,1769.4 L451.4,1767.8 L452.0,1763.4 L452.6,1769.0 L453.2,1768.3 L453.8,1773.0 L454.4,1763.7 L455.0,1762.5 L455.5,1760.2 L456.1,1762.2 L456.7,1765.3 L457.3,1764.6 L457.9,1763.4 L458.5,1763.9 L459.1,1763.2 L459.7,1758.8 L460.3,1763.8 L460.9,1766.9 L461.5,1768.6 L462.1,1770.5 L462.7,1767.3 L463.3,1772.9 L463.9,1771.4 L464.5,1771.6 L465.1,1772.5 L465.7,1767.8 L466.3,1766.1 L466.9,1769.3 L467.5,1767.5 L468.1,1767.0 L468.7,1766.3 L469.3,1772.1 L469.9,1771.2 L470.5,1774.6 L471.1,1771.1 L471.7,1775.1 L472.3,1770.6 L472.9,1768.5 L473.5,1772.4 L474.1,1772.0 L474.7,1770.4 L475.3,1771.3 L475.9,1773.2 L476.5,1769.2 L477.1,1764.5 L477.7,1770.0 L478.3,1771.7 L478.9,1773.9 L479.5,1771.2 L480.1,1774.8 L480.7,1774.3 L481.3,1768.6 L481.9,1774.0 L482.5,1769.7 L483.2,1771.2 L483.8,1771.3 L484.4,1769.2 L485.0,1766.1 L485.6,1770.7 L486.2,1772.1 L486.8,1772.4 L487.4,1770.1 L488.0,1767.7 L488.6,1768.2 L489.3,1775.0 L489.9,1775.7 L490.5,1774.2 L491.1,1773.2 L491.7,1774.3 L492.3,1778.1 L492.9,1777.6 L493.5,1780.0 L494.2,1778.8 L494.8,1776.5 L495.4,1777.1 L496.0,1776.3 L496.6,1773.8 L497.2,1776.0 L497.9,1774.6 L498.5,1778.5 L499.1,1773.9 L499.7,1777.5 L500.3,1777.4 L500.9,1773.0 L501.6,1773.3 L502.2,1774.6 L502.8,1777.2 L503.4,1774.5 L504.0,1774.2 L504.7,1771.8 L505.3,1770.9 L505.9,1774.2 L506.5,1775.2 L507.2,1775.7 L507.8,1774.7 L508.4,1774.2 L509.0,1775.1 L509.6,1774.0 L510.3,1775.7 L510.9,1772.5 L511.5,1772.4 L512.1,1773.1 L512.8,1774.5 L513.4,1774.3 L514.0,1775.7 L514.7,1776.1 L515.3,1776.2 L515.9,1776.8 L516.5,1777.8 L517.2,1777.1 L517.8,1777.9 L518.4,1778.1 L519.1,1777.2 L519.7,1778.2 L520.3,1777.2 L520.9,1776.6 L521.6,1776.7 L522.2,1777.1 L522.8,1776.9 L523.5,1777.5 L524.1,1778.0 L524.7,1777.9 L525.4,1777.2 L526.0,1777.9 L526.6,1779.5 L527.3,1777.5 L527.9,1777.4 L528.5,1776.5 L529.2,1777.5 L529.8,1777.8 L530.5,1778.2 L531.1,1776.1 L531.7,1777.6 L532.4,1777.0 L533.0,1778.4 L533.6,1778.4 L534.3,1779.3 L534.9,1778.5 L535.6,1777.4 L536.2,1779.2 L536.8,1778.0 L537.5,1778.6 L538.1,1779.2 L538.8,1779.0 L539.4,1779.1 L540.0,1778.8 L540.7,1779.1 L541.3,1779.4 L542.0,1779.1 L542.6,1780.1 L543.3,1780.1 L543.9,1779.7 L544.6,1779.0 L545.2,1780.2 L545.8,1779.9 L546.5,1780.5 L547.1,1780.9 L547.8,1780.0 L548.4,1780.8 L549.1,1779.7 L549.7,1780.8 L550.4,1780.3 L551.0,1780.8 L551.7,1780.7 L552.3,1779.9 L553.0,1780.2 L553.6,1779.5 L554.3,1779.6 L554.9,1780.5 L555.6,1780.1 L556.2,1780.1 L556.9,1779.4 L557.5,1780.6 L558.2,1780.2 L558.9,1781.0 L559.5,1779.2 L560.2,1780.3 L560.8,1780.5 L561.5,1779.2 L562.1,1779.2 L562.8,1780.7 L563.4,1780.5 L564.1,1779.8 L564.8,1780.2 L565.4,1780.1 L566.1,1780.8 L566.7,1780.7 L567.4,1780.2 L568.1,1780.4 L568.7,1780.0 L569.4,1780.7 L570.0,1780.9 L570.7,1780.7 L571.4,1778.3 L572.0,1779.4 L572.7,1778.8 L573.3,1778.5 L574.0,1778.0 L574.7,1777.4 L575.3,1776.3 L576.0,1778.0 L576.7,1778.7 L577.3,1778.4 L578.0,1778.6 L578.7,1777.8 L579.3,1778.5 L580.0,1779.9 L580.7,1780.8 L581.3,1780.2 L582.0,1779.2 L582.7,1781.9 L583.3,1779.8 L584.0,1780.5 L584.7,1779.0 L585.4,1779.3 L586.0,1778.1 L586.7,1778.5 L587.4,1777.9 L588.0,1776.4 L588.7,1776.1 L589.4,1776.6 L590.1,1777.2 L590.7,1777.8 L591.4,1777.4 L592.1,1777.7 L592.8,1777.3 L593.4,1777.8 L594.1,1778.6 L594.8,1777.8 L595.5,1777.9 L596.1,1776.7 L596.8,1776.6 L597.5,1777.5 L598.2,1777.7 L598.9,1777.1 L599.5,1777.0 L600.2,1776.4 L600.9,1776.0 L601.6,1776.3 L602.3,1775.3 L602.9,1774.9 L603.6,1774.4 L604.3,1774.0 L605.0,1774.0 L605.7,1773.7 L606.4,1773.2 L607.0,1773.0 L607.7,1772.1 L608.4,1771.7 L609.1,1772.3 L609.8,1770.8 L610.5,1771.6 L611.2,1770.7 L611.8,1770.2 L612.5,1771.5 L613.2,1769.6 L613.9,1769.5 L614.6,1769.9 L615.3,1769.9 L616.0,1770.0 L616.7,1769.5 L617.4,1768.9 L618.0,1769.2 L618.7,1767.6 L619.4,1768.6 L620.1,1766.7 L620.8,1766.3 L621.5,1766.7 L622.2,1766.2 L622.9,1765.8 L623.6,1767.4 L624.3,1765.5 L625.0,1765.3 L625.7,1764.1 L626.4,1764.8 L627.1,1764.4 L627.8,1763.1 L628.5,1761.0 L629.2,1760.4 L629.9,1760.0 L630.6,1759.8 L631.3,1757.4 L632.0,1757.1 L632.7,1755.7 L633.4,1756.4 L634.1,1758.0 L634.8,1755.2 L635.5,1755.9 L636.2,1757.8 L636.9,1754.7 L637.6,1756.7 L638.3,1756.3 L639.0,1755.5 L639.7,1753.0 L640.4,1753.2 L641.1,1752.3 L641.8,1750.2 L642.5,1749.2 L643.2,1750.2 L643.9,1749.4 L644.6,1749.1 L645.3,1748.0 L646.1,1745.4 L646.8,1744.6 L647.5,1744.7 L648.2,1743.4 L648.9,1744.7 L649.6,1743.8 L650.3,1741.4 L651.0,1741.0 L651.7,1739.6 L652.5,1739.6 L653.2,1739.5 L653.9,1738.3 L654.6,1737.9 L655.3,1737.9 L656.0,1734.5 L656.8,1734.7 L657.5,1733.8 L658.2,1735.0 L658.9,1733.2 L659.6,1732.3 L660.3,1730.8 L661.1,1732.2 L661.8,1728.4 L662.5,1726.1 L663.2,1725.7 L663.9,1725.2 L664.7,1723.4 L665.4,1720.5 L666.1,1724.2 L666.8,1721.6 L667.5,1719.3 L668.3,1719.3 L669.0,1717.5 L669.7,1718.9 L670.4,1719.0 L671.2,1718.0 L671.9,1717.4 L672.6,1717.8 L673.4,1715.1 L674.1,1713.9 L674.8,1711.3 L675.5,1713.2 L676.3,1711.1 L677.0,1710.0 L677.7,1708.2 L678.5,1710.1 L679.2,1708.0 L679.9,1711.0 L680.6,1709.8 L681.4,1709.4 L682.1,1707.4 L682.8,1707.0 L683.6,1710.4 L684.3,1708.4 L685.0,1706.4 L685.8,1707.0 L686.5,1707.0 L687.3,1702.6 L688.0,1703.5 L688.7,1702.9 L689.5,1702.6 L690.2,1699.2 L690.9,1701.4 L691.7,1699.0 L692.4,1700.5 L693.2,1699.6 L693.9,1697.9 L694.6,1698.2 L695.4,1695.6 L696.1,1695.6 L696.9,1696.5 L697.6,1695.1 L698.3,1694.4 L699.1,1693.0 L699.8,1695.5 L700.6,1694.9 L701.3,1692.1 L702.1,1690.8 L702.8,1690.5 L703.6,1693.7 L704.3,1692.5 L705.1,1690.3 L705.8,1691.8 L706.6,1691.3 L707.3,1690.4 L708.1,1690.5 L708.8,1691.5 L709.6,1692.2 L710.3,1689.8 L711.1,1686.5 L711.8,1688.8 L712.6,1687.5 L713.3,1687.9 L714.1,1687.3 L714.8,1686.1 L715.6,1684.9 L716.3,1686.3 L717.1,1686.4 L717.8,1686.4 L718.6,1682.9 L719.4,1684.0 L720.1,1685.0 L720.9,1684.3 L721.6,1684.7 L722.4,1682.8 L723.2,1685.8 L723.9,1685.2 L724.7,1685.2 L725.4,1681.8 L726.2,1683.7 L727.0,1684.2 L727.7,1682.0 L728.5,1680.8 L729.3,1684.1 L730.0,1684.2 L730.8,1681.9 L731.5,1683.6 L732.3,1682.7 L733.1,1684.0 L733.8,1681.4 L734.6,1682.2 L735.4,1683.5 L736.1,1683.5 L736.9,1687.3 L737.7,1685.1 L738.5,1685.4 L739.2,1685.7 L740.0,1687.2 L740.8,1688.2 L741.5,1690.4 L742.3,1687.8 L743.1,1688.3 L743.9,1687.8 L744.6,1687.1 L745.4,1687.8 L746.2,1690.5 L747.0,1686.0 L747.7,1688.3 L748.5,1687.8 L749.3,1687.8 L750.1,1692.9 L750.8,1696.9 L751.6,1697.2 L752.4,1698.3 L753.2,1697.1 L754.0,1696.0 L754.7,1698.5 L755.5,1694.3 L756.3,1697.2 L757.1,1694.5 L757.9,1695.9 L758.7,1694.5 L759.4,1693.1 L760.2,1694.8 L761.0,1696.2 L761.8,1698.8 L762.6,1698.8 L763.4,1697.0 L764.2,1697.4 L764.9,1698.1 L765.7,1701.4 L766.5,1704.2 L767.3,1702.4 L768.1,1704.4 L768.9,1705.7 L769.7,1706.1 L770.5,1705.5 L771.3,1708.1 L772.1,1707.2 L772.9,1709.5 L773.6,1708.5 L774.4,1705.3 L775.2,1709.3 L776.0,1710.7 L776.8,1710.6 L777.6,1711.2 L778.4,1713.6 L779.2,1714.9 L780.0,1712.8 L780.8,1716.3 L781.6,1716.6 L782.4,1715.4 L783.2,1718.5 L784.0,1718.5 L784.8,1719.4 L785.6,1717.2 L786.4,1722.7 L787.2,1722.9 L788.0,1724.0 L788.8,1723.8 L789.6,1724.3 L790.4,1724.2 L791.2,1728.7 L792.1,1727.0 L792.9,1728.3 L793.7,1729.2 L794.5,1727.5 L795.3,1728.1 L796.1,1729.0 L796.9,1727.0 L797.7,1729.2 L798.5,1728.4 L799.3,1727.5 L800.1,1729.1 L801.0,1727.2 L801.8,1729.5 L802.6,1732.2 L803.4,1731.2 L804.2,1731.3 L805.0,1732.1 L805.8,1729.8 L806.7,1731.0 L807.5,1733.2 L808.3,1728.9 L809.1,1730.1 L809.9,1730.0 L810.8,1730.6 L811.6,1729.1 L812.4,1728.4 L813.2,1724.5 L814.0,1724.0 L814.9,1722.4 L815.7,1721.4 L816.5,1722.9 L817.3,1717.5 L818.2,1716.0 L819.0,1713.0 L819.8,1713.2 L820.6,1705.5 L821.5,1707.5 L822.3,1706.5 L823.1,1704.6 L823.9,1700.4 L824.8,1699.3 L825.6,1697.1 L826.4,1694.1 L827.3,1694.1 L828.1,1690.1 L828.9,1690.2 L829.8,1689.6 L830.6,1686.2 L831.4,1682.0 L832.3,1686.1 L833.1,1685.6 L833.9,1684.7 L834.8,1680.7 L835.6,1682.8 L836.4,1681.3 L837.3,1678.8 L838.1,1680.4 L839.0,1681.2 L839.8,1680.9 L840.6,1681.4 L841.5,1680.6 L842.3,1679.0 L843.2,1678.0 L844.0,1676.4 L844.8,1677.8 L845.7,1675.4 L846.5,1671.6 L847.4,1670.1 L848.2,1671.9 L849.1,1672.9 L849.9,1668.8 L850.8,1669.9 L851.6,1672.0 L852.5,1673.5 L853.3,1669.8 L854.2,1672.3 L855.0,1671.2 L855.9,1672.9 L856.7,1669.8 L857.6,1673.3 L858.4,1673.3 L859.3,1668.5 L860.1,1669.4 L861.0,1670.9 L861.8,1667.4 L862.7,1665.9 L863.5,1665.2 L864.4,1668.7 L865.3,1670.5 L866.1,1669.2 L867.0,1668.4 L867.8,1668.6 L868.7,1665.2 L869.5,1669.1 L870.4,1669.3 L871.3,1672.8 L872.1,1669.3 L873.0,1666.8 L873.9,1667.9 L874.7,1667.3 L875.6,1667.3 L876.5,1664.2 L877.3,1668.4 L878.2,1666.3 L879.1,1665.8 L879.9,1665.3 L880.8,1666.8 L881.7,1664.2 L882.5,1665.9 L883.4,1664.2 L884.3,1665.7 L885.1,1668.0 L886.0,1666.5 L886.9,1662.8 L887.8,1664.8 L888.6,1664.3 L889.5,1664.0 L890.4,1666.9 L891.3,1665.0 L892.1,1667.6 L893.0,1662.2 L893.9,1659.5 L894.8,1660.7 L895.6,1663.9 L896.5,1661.3 L897.4,1662.2 L898.3,1662.3 L899.2,1660.8 L900.1,1665.7 L900.9,1664.4 L901.8,1665.6 L902.7,1664.4 L903.6,1667.1 L904.5,1669.9 L905.4,1668.8 L906.2,1668.5 L907.1,1668.6 L908.0,1666.8 L908.9,1665.5 L909.8,1668.8 L910.7,1661.3 L911.6,1662.4 L912.5,1662.1 L913.4,1661.2 L914.3,1659.6 L915.1,1662.4 L916.0,1663.2 L916.9,1663.3 L917.8,1660.7 L918.7,1666.1 L919.6,1661.6 L920.5,1664.6 L921.4,1666.7 L922.3,1662.5 L923.2,1663.6 L924.1,1667.5 L925.0,1666.4 L925.9,1663.8 L926.8,1664.1 L927.7,1664.3 L928.6,1665.2 L929.5,1662.2 L930.4,1662.9 L931.3,1661.5 L932.2,1660.2 L933.1,1660.2 L934.1,1661.2 L935.0,1658.2 L935.9,1660.9 L936.8,1660.0 L937.7,1659.9 L938.6,1659.0 L939.5,1661.3 L940.4,1659.5 L941.3,1660.0 L942.2,1659.3 L943.2,1656.4 L944.1,1661.9 L945.0,1658.5 L945.9,1661.5 L946.8,1657.0 L947.7,1656.6 L948.7,1663.4 L949.6,1659.6 L950.5,1657.7 L951.4,1656.7 L952.3,1655.3 L953.3,1655.7 L954.2,1654.3 L955.1,1653.4 L956.0,1655.2 L956.9,1651.9 L957.9,1657.3 L958.8,1649.8 L959.7,1652.1 L960.6,1647.9 L961.6,1650.4 L962.5,1650.5 L963.4,1647.5 L964.4,1647.4 L965.3,1646.8 L966.2,1648.8 L967.1,1647.7 L968.1,1646.4 L969.0,1645.0 L969.9,1646.7 L970.9,1643.6 L971.8,1645.2 L972.7,1646.3 L973.7,1645.7 L974.6,1645.2 L975.6,1646.1 L976.5,1647.3 L977.4,1647.3 L978.4,1646.8 L979.3,1648.4 L980.3,1644.2 L981.2,1646.0 L982.1,1644.9 L983.1,1645.2 L984.0,1644.3 L985.0,1642.6 L985.9,1642.8 L986.9,1637.4 L987.8,1638.8 L988.8,1635.3 L989.7,1635.8 L990.7,1636.7 L991.6,1635.7 L992.6,1631.9 L993.5,1631.4 L994.5,1632.0 L995.4,1631.2 L996.4,1634.4 L997.3,1630.7 L998.3,1633.7 L999.2,1629.5 L1000.2,1631.5 L1001.1,1630.2 L1002.1,1629.4 L1003.0,1627.9 L1004.0,1630.8 L1005.0,1631.4 L1005.9,1631.6 L1006.9,1634.7 L1007.8,1632.4 L1008.8,1626.1 L1009.8,1631.5 L1010.7,1628.1 L1011.7,1629.7 L1012.7,1625.9 L1013.6,1627.5 L1014.6,1625.2 L1015.6,1622.3 L1016.5,1619.1 L1017.5,1621.7 L1018.5,1621.1 L1019.4,1622.3 L1020.4,1620.0 L1021.4,1621.4 L1022.4,1615.7 L1023.3,1617.0 L1024.3,1613.6 L1025.3,1618.2 L1026.3,1613.6 L1027.2,1610.2 L1028.2,1612.1 L1029.2,1610.2 L1030.2,1608.6 L1031.1,1612.0 L1032.1,1608.1 L1033.1,1601.9 L1034.1,1603.0 L1035.1,1606.0 L1036.0,1605.0 L1037.0,1601.7 L1038.0,1598.9 L1039.0,1600.0 L1040.0,1599.0 L1041.0,1595.9 L1042.0,1594.3 L1042.9,1597.0 L1043.9,1598.0 L1044.9,1597.8 L1045.9,1596.3 L1046.9,1598.4 L1047.9,1591.8 L1048.9,1594.0 L1049.9,1589.2 L1050.9,1584.5 L1051.9,1583.7 L1052.9,1586.5 L1053.9,1581.3 L1054.9,1578.0 L1055.9,1580.8 L1056.9,1581.0 L1057.9,1576.7 L1058.9,1578.5 L1059.9,1573.5 L1060.9,1578.8 L1061.9,1575.6 L1062.9,1573.6 L1063.9,1574.2 L1064.9,1572.0 L1065.9,1570.8 L1066.9,1570.5 L1067.9,1568.3 L1068.9,1571.9 L1069.9,1567.6 L1070.9,1568.4 L1071.9,1565.0 L1072.9,1563.7 L1073.9,1563.7 L1075.0,1562.0 L1076.0,1558.0 L1077.0,1556.7 L1078.0,1559.1 L1079.0,1553.2 L1080.0,1549.4 L1081.1,1557.7 L1082.1,1553.2 L1083.1,1548.6 L1084.1,1551.6 L1085.1,1553.0 L1086.1,1551.4 L1087.2,1550.9 L1088.2,1547.8 L1089.2,1548.5 L1090.2,1543.4 L1091.3,1544.1 L1092.3,1542.9 L1093.3,1541.6 L1094.3,1537.2 L1095.4,1539.0 L1096.4,1536.3 L1097.4,1533.6 L1098.5,1533.5 L1099.5,1533.0 L1100.5,1533.0 L1101.6,1532.7 L1102.6,1533.2 L1103.6,1533.1 L1104.7,1530.9 L1105.7,1533.4 L1106.7,1528.7 L1107.8,1529.8 L1108.8,1529.4 L1109.9,1525.8 L1110.9,1525.4 L1111.9,1520.0 L1113.0,1519.5 L1114.0,1514.1 L1115.1,1516.5 L1116.1,1520.5 L1117.2,1517.5 L1118.2,1518.5 L1119.2,1514.1 L1120.3,1512.1 L1121.3,1512.6 L1122.4,1516.0 L1123.4,1513.7 L1124.5,1509.7 L1125.5,1509.0 L1126.6,1508.6 L1127.6,1505.3 L1128.7,1503.0 L1129.8,1503.8 L1130.8,1505.3 L1131.9,1503.1 L1132.9,1501.5 L1134.0,1499.9 L1135.0,1498.8 L1136.1,1495.3 L1137.2,1497.4 L1138.2,1495.6 L1139.3,1492.3 L1140.4,1487.2 L1141.4,1492.0 L1142.5,1490.2 L1143.5,1489.8 L1144.6,1488.2 L1145.7,1486.1 L1146.8,1487.1 L1147.8,1483.9 L1148.9,1484.9 L1150.0,1483.4 L1151.0,1480.6 L1152.1,1480.5 L1153.2,1480.7 L1154.3,1477.8 L1155.3,1475.9 L1156.4,1473.4 L1157.5,1476.0 L1158.6,1475.3 L1159.6,1475.6 L1160.7,1472.2 L1161.8,1464.0 L1162.9,1470.8 L1164.0,1467.2 L1165.0,1464.5 L1166.1,1464.9 L1167.2,1465.6 L1168.3,1463.2 L1169.4,1463.2 L1170.5,1462.4 L1171.6,1466.6 L1172.6,1461.5 L1173.7,1461.1 L1174.8,1460.1 L1175.9,1457.7 L1177.0,1455.4 L1178.1,1453.1 L1179.2,1454.2 L1180.3,1451.2 L1181.4,1449.6 L1182.5,1450.0 L1183.6,1450.6 L1184.7,1453.6 L1185.8,1452.5 L1186.9,1449.6 L1188.0,1452.1 L1189.1,1449.5 L1190.2,1449.6 L1191.3,1448.2 L1192.4,1449.2 L1193.5,1446.7 L1194.6,1444.1 L1195.7,1442.6 L1196.8,1443.1 L1197.9,1445.5 L1199.0,1444.7 L1200.2,1446.5 L1201.3,1443.7 L1202.4,1445.6 L1203.5,1443.6 L1204.6,1441.5 L1205.7,1445.2 L1206.8,1446.7 L1208.0,1445.9 L1209.1,1446.5 L1210.2,1445.3 L1211.3,1442.0 L1212.4,1443.9 L1213.6,1447.9 L1214.7,1444.1 L1215.8,1443.2 L1216.9,1445.8 L1218.1,1446.6 L1219.2,1446.2 L1220.3,1445.2 L1221.4,1444.5 L1222.6,1443.5 L1223.7,1442.5 L1224.8,1442.3 L1226.0,1441.0 L1227.1,1443.7 L1228.2,1447.5 L1229.4,1444.7 L1230.5,1444.9 L1231.6,1447.3 L1232.8,1446.1 L1233.9,1450.0 L1235.1,1451.1 L1236.2,1448.0 L1237.3,1449.1 L1238.5,1449.4 L1239.6,1448.7 L1240.8,1449.6 L1241.9,1450.6 L1243.1,1455.2 L1244.2,1451.5 L1245.4,1452.6 L1246.5,1454.5 L1247.6,1452.5 L1248.8,1452.8 L1250.0,1458.5 L1251.1,1459.3 L1252.3,1455.1 L1253.4,1460.9 L1254.6,1463.7 L1255.7,1461.6 L1256.9,1462.4 L1258.0,1467.1 L1259.2,1467.0 L1260.4,1471.3 L1261.5,1475.3 L1262.7,1475.6 L1263.8,1476.2 L1265.0,1482.0 L1266.2,1483.2 L1267.3,1485.4 L1268.5,1481.6 L1269.7,1489.5 L1270.8,1486.2 L1272.0,1490.1 L1273.2,1492.9 L1274.4,1494.1 L1275.5,1494.0 L1276.7,1494.4 L1277.9,1497.5 L1279.1,1500.9 L1280.2,1502.8 L1281.4,1504.3 L1282.6,1506.1 L1283.8,1505.8 L1284.9,1509.9 L1286.1,1510.6 L1287.3,1511.9 L1288.5,1517.1 L1289.7,1521.7 L1290.9,1522.8 L1292.0,1525.6 L1293.2,1521.9 L1294.4,1526.9 L1295.6,1522.9 L1296.8,1526.2 L1298.0,1525.4 L1299.2,1528.4 L1300.4,1531.2 L1301.6,1532.0 L1302.8,1532.4 L1304.0,1532.9 L1305.2,1537.2 L1306.4,1539.5 L1307.6,1539.0 L1308.8,1547.2 L1310.0,1545.2 L1311.2,1550.1 L1312.4,1550.5 L1313.6,1549.6 L1314.8,1553.7 L1316.0,1553.9 L1317.2,1558.0 L1318.4,1552.7 L1319.6,1557.2 L1320.8,1557.8 L1322.0,1560.5 L1323.2,1566.1 L1324.5,1565.4 L1325.7,1563.6 L1326.9,1563.1 L1328.1,1567.1 L1329.3,1569.9 L1330.5,1573.4 L1331.8,1568.4 L1333.0,1567.8 L1334.2,1573.0 L1335.4,1575.7 L1336.7,1581.2 L1337.9,1577.4 L1339.1,1576.5 L1340.3,1579.8 L1341.6,1579.9 L1342.8,1581.9 L1344.0,1587.1 L1345.2,1583.7 L1346.5,1588.7 L1347.7,1586.0 L1348.9,1585.4 L1350.2,1584.2 L1351.4,1587.2 L1352.7,1590.6 L1353.9,1594.3 L1355.1,1596.2 L1356.4,1594.3 L1357.6,1595.8 L1358.9,1599.1 L1360.1,1600.0 L1361.3,1598.2 L1362.6,1601.3 L1363.8,1599.8 L1365.1,1600.1 L1366.3,1596.7 L1367.6,1596.9 L1368.8,1593.8 L1370.1,1598.1 L1371.3,1597.6 L1372.6,1596.0 L1373.9,1597.2 L1375.1,1596.8 L1376.4,1593.2 L1377.6,1596.6 L1378.9,1597.1 L1380.2,1598.3 L1381.4,1596.9 L1382.7,1595.9 L1383.9,1599.1 L1385.2,1598.8 L1386.5,1595.4 L1387.7,1595.2 L1389.0,1596.8 L1390.3,1595.1 L1391.5,1595.2 L1392.8,1599.3 L1394.1,1596.8 L1395.4,1594.6 L1396.6,1595.7 L1397.9,1598.9 L1399.2,1594.1 L1400.5,1590.6 L1401.8,1588.9 L1403.0,1591.9 L1404.3,1581.1 L1405.6,1585.2 L1406.9,1579.1 L1408.2,1576.1 L1409.5,1574.3 L1410.7,1572.4 L1412.0,1574.0 L1413.3,1567.8 L1414.6,1569.1 L1415.9,1571.4 L1417.2,1560.4 L1418.5,1563.2 L1419.8,1558.2 L1421.1,1562.0 L1422.4,1558.5 L1423.7,1556.1 L1425.0,1555.3 L1426.3,1559.0 L1427.6,1559.5 L1428.9,1557.1 L1430.2,1560.3 L1431.5,1560.2 L1432.8,1555.4 L1434.1,1556.8 L1435.4,1555.4 L1436.7,1556.0 L1438.0,1551.3 L1439.3,1552.2 L1440.7,1554.4 L1442.0,1551.9 L1443.3,1556.4 L1444.6,1555.3 L1445.9,1552.1 L1447.2,1556.9 L1448.6,1554.8 L1449.9,1557.4 L1451.2,1554.7 L1452.5,1551.8 L1453.9,1556.2 L1455.2,1553.9 L1456.5,1556.4 L1457.8,1558.0 L1459.2,1555.8 L1460.5,1550.2 L1461.8,1546.3 L1463.2,1548.5 L1464.5,1548.0 L1465.8,1543.4 L1467.2,1541.9 L1468.5,1537.9 L1469.9,1534.6 L1471.2,1531.8 L1472.5,1526.8 L1473.9,1524.8 L1475.2,1519.1 L1476.6,1513.9 L1477.9,1493.1 L1479.3,1473.8 L1480.6,1448.0 L1482.0,1434.3 L1483.3,1424.7 L1484.7,1418.9 L1486.0,1415.0 L1487.4,1409.8 L1488.7,1402.5 L1490.1,1393.7 L1491.4,1383.1 L1492.8,1376.4 L1494.2,1370.4 L1495.5,1361.3 L1496.9,1359.0 L1498.3,1350.6 L1499.6,1348.5 L1501.0,1347.9 L1502.4,1334.7 L1503.7,1330.4 L1505.1,1330.9 L1506.5,1326.6 L1507.8,1325.1 L1509.2,1323.8 L1510.6,1323.6 L1512.0,1321.9 L1513.3,1319.8 L1514.7,1320.1 L1516.1,1320.1 L1517.5,1321.1 L1518.9,1320.1 L1520.3,1325.2 L1521.6,1324.3 L1523.0,1331.1 L1524.4,1332.1 L1525.8,1330.3 L1527.2,1336.0 L1528.6,1338.0 L1530.0,1345.7 L1531.4,1350.3 L1532.8,1354.2 L1534.2,1361.1 L1535.6,1368.0 L1537.0,1371.4 L1538.4,1378.3 L1539.8,1386.7 L1541.2,1392.8 L1542.6,1396.6 L1544.0,1404.3 L1545.4,1409.1 L1546.8,1412.2 L1548.2,1421.3 L1549.6,1430.7 L1551.0,1436.5 L1552.4,1445.2 L1553.9,1453.0 L1555.3,1459.9 L1556.7,1465.8 L1558.1,1473.8 L1559.5,1480.4 L1560.9,1488.0 L1562.4,1494.5 L1563.8,1503.8 L1565.2,1507.1 L1566.6,1515.1 L1568.1,1520.3 L1569.5,1527.8 L1570.9,1533.4 L1572.4,1542.3 L1573.8,1547.2 L1575.2,1550.6 L1576.7,1561.9 L1578.1,1564.4 L1579.5,1568.9 L1581.0,1576.0 L1582.4,1582.3 L1583.9,1588.0 L1585.3,1595.9 L1586.7,1600.2 L1588.2,1607.7 L1589.6,1614.3 L1591.1,1620.8 L1592.5,1626.1 L1594.0,1631.1 L1595.4,1635.1 L1596.9,1642.8 L1598.4,1642.9 L1599.8,1649.0 L1601.3,1653.6 L1602.7,1658.2 L1604.2,1661.4 L1605.6,1665.0 L1607.1,1670.4 L1608.6,1677.5 L1610.0,1678.2 L1611.5,1679.1 L1613.0,1687.9 L1614.4,1687.2 L1615.9,1690.9 L1617.4,1694.1 L1618.9,1694.4 L1620.3,1699.0 L1621.8,1699.0 L1623.3,1698.8 L1624.8,1703.3 L1626.3,1705.5 L1627.7,1707.2 L1629.2,1709.8 L1630.7,1708.8 L1632.2,1712.3 L1633.7,1712.1 L1635.2,1716.0 L1636.7,1716.6 L1638.2,1718.3 L1639.7,1722.1 L1641.1,1721.8 L1642.6,1723.8 L1644.1,1724.5 L1645.6,1724.9 L1647.1,1728.2 L1648.6,1729.4 L1650.1,1727.4 L1651.7,1729.9 L1653.2,1729.6 L1654.7,1730.1 L1656.2,1731.7 L1657.7,1731.8 L1659.2,1731.3 L1660.7,1732.2 L1662.2,1732.9 L1663.7,1733.4 L1665.3,1733.7 L1666.8,1734.1 L1668.3,1733.0 L1669.8,1734.2 L1671.3,1735.8 L1672.9,1735.8 L1674.4,1735.3 L1675.9,1735.3 L1677.5,1736.0 L1679.0,1736.0 L1680.5,1736.1 L1682.1,1738.0 L1683.6,1738.2 L1685.1,1736.5 L1686.7,1737.4 L1688.2,1736.5 L1689.7,1736.2 L1691.3,1736.7 L1692.8,1737.7 L1694.4,1736.7 L1695.9,1737.5 L1697.5,1738.2 L1699.0,1737.7 L1700.6,1737.8 L1702.1,1738.9 L1703.7,1738.3 L1705.2,1738.6 L1706.8,1739.5 L1708.3,1738.0 L1709.9,1738.1 L1711.5,1738.2 L1713.0,1739.2 L1714.6,1738.5 L1716.2,1738.1 L1717.7,1737.8 L1719.3,1738.4 L1720.9,1736.8 L1722.4,1737.6 L1724.0,1736.8 L1725.6,1736.0 L1727.2,1737.0 L1728.7,1736.0 L1730.3,1734.6 L1731.9,1735.4 L1733.5,1734.8 L1735.1,1734.4 L1736.7,1733.4 L1738.2,1734.9 L1739.8,1732.8 L1741.4,1731.9 L1743.0,1731.4 L1744.6,1730.3 L1746.2,1729.6 L1747.8,1727.8 L1749.4,1727.3 L1751.0,1724.6 L1752.6,1723.1 L1754.2,1722.0 L1755.8,1718.7 L1757.4,1715.6 L1759.0,1714.5 L1760.6,1712.6 L1762.2,1709.3 L1763.9,1707.5 L1765.5,1704.6 L1767.1,1701.1 L1768.7,1700.2 L1770.3,1696.9 L1771.9,1692.9 L1773.6,1691.3 L1775.2,1687.9 L1776.8,1686.3 L1778.4,1682.6 L1780.1,1678.8 L1781.7,1672.5 L1783.3,1671.8 L1785.0,1669.1 L1786.6,1665.2 L1788.2,1660.4 L1789.9,1655.6 L1791.5,1651.9 L1793.1,1645.5 L1794.8,1643.0 L1796.4,1637.2 L1798.1,1632.5 L1799.7,1626.7 L1801.4,1623.7 L1803.0,1616.3 L1804.7,1609.6 L1806.3,1602.6 L1808.0,1599.1 L1809.6,1588.7 L1811.3,1583.2 L1813.0,1576.1 L1814.6,1568.0 L1816.3,1559.9 L1817.9,1550.7 L1819.6,1544.4 L1821.3,1535.0 L1823.0,1523.1 L1824.6,1513.6 L1826.3,1504.9 L1828.0,1496.2 L1829.7,1487.1 L1831.3,1476.7 L1833.0,1466.1 L1834.7,1458.9 L1836.4,1448.2 L1838.1,1439.8 L1839.7,1432.7 L1841.4,1421.0 L1843.1,1414.2 L1844.8,1405.5 L1846.5,1395.9 L1848.2,1384.8 L1849.9,1374.8 L1851.6,1364.4 L1853.3,1354.2 L1855.0,1346.8 L1856.7,1335.3 L1858.4,1326.8 L1860.1,1316.1 L1861.8,1305.0 L1863.5,1296.0 L1865.2,1286.8 L1867.0,1276.1 L1868.7,1263.6 L1870.4,1251.2 L1872.1,1238.9 L1873.8,1230.4 L1875.6,1218.0 L1877.3,1207.5 L1879.0,1193.4 L1880.7,1184.5 L1882.5,1169.7 L1884.2,1160.5 L1885.9,1149.7 L1887.7,1137.9 L1889.4,1125.0 L1891.1,1115.9 L1892.9,1103.3 L1894.6,1095.1 L1896.4,1084.1 L1898.1,1073.1 L1899.9,1064.6 L1901.6,1052.5 L1903.4,1042.5 L1905.1,1033.3 L1906.9,1024.8 L1908.6,1015.6 L1910.4,1004.9 L1912.1,997.8 L1913.9,986.7 L1915.7,979.8 L1917.4,972.0 L1919.2,967.2 L1921.0,955.2 L1922.7,945.3 L1924.5,938.6 L1926.3,928.9 L1928.0,923.7 L1929.8,911.9 L1931.6,904.8 L1933.4,893.8 L1935.2,888.1 L1937.0,878.2 L1938.7,870.6 L1940.5,859.3 L1942.3,851.8 L1944.1,840.6 L1945.9,826.9 L1947.7,819.1 L1949.5,808.2 L1951.3,795.6 L1953.1,783.8 L1954.9,768.5 L1956.7,754.0 L1958.5,743.2 L1960.3,729.0 L1962.1,709.3 L1963.9,692.3 L1965.8,674.8 L1967.6,657.0 L1969.4,640.6 L1971.2,621.1 L1973.0,604.6 L1974.9,584.6 L1976.7,562.0 L1978.5,543.9 L1980.3,520.2 L1982.2,504.2 L1984.0,486.3 L1985.8,466.3 L1987.7,447.8 L1989.5,433.6 L1991.4,422.4 L1993.2,408.1 L1995.0,396.9 L1996.9,390.3 L1998.7,383.1 L2000.6,373.7 L2002.4,370.4 L2004.3,367.5 L2006.1,365.0 L2008.0,364.8 L2009.9,365.4 L2011.7,369.7 L2013.6,375.4 L2015.5,384.8 L2017.3,401.1 L2019.2,412.5 L2021.1,429.3 L2022.9,449.3 L2024.8,470.4 L2026.7,498.2 L2028.6,526.1 L2030.5,553.5 L2032.3,587.8 L2034.2,620.4 L2036.1,652.8 L2038.0,691.5 L2039.9,727.9 L2041.8,769.5 L2043.7,809.8 L2045.6,849.3 L2047.5,889.4 L2049.4,929.1 L2051.3,974.0 L2053.2,1010.5 L2055.1,1054.2 L2057.0,1095.8 L2058.9,1131.7 L2060.8,1170.5 L2062.7,1209.6 L2064.7,1241.2 L2066.6,1280.2 L2068.5,1312.0 L2070.4,1343.4 L2072.3,1371.7 L2074.3,1402.2 L2076.2,1428.4 L2078.1,1456.4 L2080.1,1479.0 L2082.0,1504.9 L2083.9,1525.0 L2085.9,1543.1 L2087.8,1564.0 L2089.8,1582.2 L2091.7,1594.4 L2093.7,1611.2 L2095.6,1627.4 L2097.6,1638.4 L2099.5,1651.8 L2101.5,1659.4 L2103.4,1669.4 L2105.4,1680.8 L2107.4,1689.1 L2109.3,1695.9 L2111.3,1703.2 L2113.3,1709.4 L2115.2,1713.2 L2117.2,1721.0 L2119.2,1724.3 L2121.2,1729.0 L2123.1,1732.0 L2125.1,1734.5 L2127.1,1739.4 L2129.1,1739.4 L2131.1,1741.9 L2133.1,1743.7 L2135.1,1747.1 L2137.1,1748.5 L2139.1,1748.2 L2141.1,1750.7 L2143.1,1750.3 L2145.1,1749.9 L2147.1,1751.5 L2149.1,1753.5 L2151.1,1756.6 L2153.1,1758.1 L2155.1,1756.1 L2157.1,1757.0 L2159.2,1757.2 L2161.2,1759.2 L2163.2,1759.9 L2165.2,1760.1 L2167.2,1759.8 L2169.3,1761.6 L2171.3,1761.2 L2173.3,1761.3 L2175.4,1761.8 L2177.4,1762.5 L2179.5,1765.2 L2181.5,1760.8 L2183.5,1764.5 L2185.6,1763.5 L2187.6,1765.6 L2189.7,1768.0 L2191.8,1765.0 L2193.8,1768.1 L2195.9,1767.9 L2197.9,1767.7 L2200.0,1767.4 L2202.1,1763.2 L2204.1,1765.9 L2206.2,1764.4 L2208.3,1765.4 L2210.3,1763.3 L2212.4,1762.9 L2214.5,1762.1 L2216.6,1765.7 L2218.7,1765.0 L2220.8,1765.9 L2222.8,1767.0 L2224.9,1763.9 L2227.0,1765.0 L2229.1,1768.1 L2231.2,1764.0 L2233.3,1764.3 L2235.4,1766.0 L2237.5,1766.0 L2239.6,1762.0 L2241.7,1764.2 L2243.9,1765.1 L2246.0,1766.5 L2248.1,1770.8 L2250.2,1769.9 L2252.3,1772.1 L2254.5,1771.0 L2256.6,1771.6 L2258.7,1770.9 L2260.8,1769.0 L2263.0,1769.1 L2265.1,1768.7 L2267.2,1767.4 L2269.4,1765.1 L2271.5,1766.2 L2273.7,1766.0 L2275.8,1766.2 L2278.0,1767.7 L2280.1,1767.9 L2282.3,1769.1 L2284.4,1764.9 L2286.6,1767.0 L2288.8,1768.0 L2290.9,1767.9 L2293.1,1764.2 L2295.3,1765.4 L2297.4,1765.9 L2299.6,1765.4 L2301.8,1765.7 L2304.0,1763.9 L2306.1,1766.5 L2308.3,1762.8 L2310.5,1768.7 L2312.7,1767.4 L2314.9,1770.7 L2317.1,1764.8 L2319.3,1768.1 L2321.5,1767.1 L2323.7,1765.8 L2325.9,1765.3 L2328.1,1770.8 L2330.3,1769.7 L2332.5,1769.6 L2334.7,1768.4 L2337.0,1769.0 L2339.2,1770.3 L2341.4,1772.0 L2343.6,1770.8 L2345.8,1770.8 L2348.1,1768.3 L2350.3,1767.8 L2352.5,1774.5 L2354.8,1771.7 L2357.0,1771.7 L2359.3,1769.9 L2361.5,1772.1 L2363.8,1772.3 L2366.0,1774.7 L2368.3,1772.3 L2370.5,1772.4 L2372.8,1773.2 L2375.0,1771.9" fill="none" stroke="#ff0000" stroke-width="7" stroke-linejoin="round" marker-start="url(#sq)" marker-mid="url(#sq)" marker-end="url(#sq)"/>
<path d="M295.5,1785.3 L296.7,1785.3 L297.8,1785.3 L299.0,1785.2 L300.1,1785.2 L301.3,1785.2 L302.4,1785.2 L303.6,1785.2 L304.8,1785.2 L305.9,1785.2 L307.1,1785.1 L308.2,1785.1 L309.4,1785.1 L310.5,1785.1 L311.7,1785.1 L312.9,1785.0 L314.0,1785.0 L315.2,1785.0 L316.3,1784.9 L317.5,1784.9 L318.6,1784.9 L319.8,1784.9 L321.0,1784.8 L322.1,1784.8 L323.3,1784.7 L324.4,1784.7 L325.6,1784.7 L326.7,1784.6 L327.9,1784.6 L329.1,1784.5 L330.2,1784.5 L331.4,1784.4 L332.5,1784.4 L333.7,1784.3 L334.8,1784.3 L336.0,1784.2 L337.2,1784.1 L338.3,1784.1 L339.5,1784.0 L340.6,1783.9 L341.8,1783.9 L342.9,1783.8 L344.1,1783.7 L345.3,1783.6 L346.4,1783.5 L347.6,1783.5 L348.7,1783.4 L349.9,1783.3 L351.0,1783.2 L352.2,1783.1 L353.4,1783.0 L354.5,1782.9 L355.7,1782.8 L356.8,1782.7 L358.0,1782.5 L359.1,1782.4 L360.3,1782.3 L361.5,1782.2 L362.6,1782.1 L363.8,1781.9 L364.9,1781.8 L366.1,1781.7 L367.2,1781.5 L368.4,1781.4 L369.6,1781.2 L370.7,1781.1 L371.9,1780.9 L373.0,1780.8 L374.2,1780.6 L375.3,1780.5 L376.5,1780.3 L377.7,1780.1 L378.8,1780.0 L380.0,1779.8 L381.1,1779.6 L382.3,1779.4 L383.4,1779.3 L384.6,1779.1 L385.8,1778.9 L386.9,1778.7 L388.1,1778.5 L389.2,1778.3 L390.4,1778.2 L391.5,1778.0 L392.7,1777.8 L393.9,1777.6 L395.0,1777.4 L396.2,1777.2 L397.3,1777.0 L398.5,1776.8 L399.6,1776.6 L400.8,1776.5 L402.0,1776.3 L403.1,1776.1 L404.3,1775.9 L405.4,1775.7 L406.6,1775.5 L407.7,1775.3 L408.9,1775.2 L410.1,1775.0 L411.2,1774.8 L412.4,1774.6 L413.5,1774.4 L414.7,1774.3 L415.8,1774.1 L417.0,1774.0 L418.2,1773.8 L419.3,1773.6 L420.5,1773.5 L421.6,1773.3 L422.8,1773.2 L423.9,1773.1 L425.1,1772.9 L426.3,1772.8 L427.4,1772.7 L428.6,1772.6 L429.7,1772.4 L430.9,1772.3 L432.0,1772.2 L433.2,1772.1 L434.4,1772.1 L435.5,1772.0 L436.7,1771.9 L437.8,1771.8 L439.0,1771.8 L440.1,1771.7 L441.3,1771.7 L442.5,1771.6 L443.6,1771.6 L444.8,1771.6 L445.9,1771.5 L447.1,1771.5 L448.2,1771.5 L449.4,1771.5 L450.6,1771.5 L451.7,1771.5 L452.9,1771.6 L454.0,1771.6 L455.2,1771.6 L456.3,1771.7 L457.5,1771.7 L458.7,1771.8 L459.8,1771.8 L461.0,1771.9 L462.1,1772.0 L463.3,1772.0 L464.5,1772.1 L465.6,1772.2 L466.8,1772.3 L467.9,1772.4 L469.1,1772.5 L470.2,1772.6 L471.4,1772.8 L472.6,1772.9 L473.7,1773.0 L474.9,1773.1 L476.0,1773.3 L477.2,1773.4 L478.3,1773.6 L479.5,1773.7 L480.7,1773.9 L481.8,1774.0 L483.0,1774.2 L484.1,1774.4 L485.3,1774.5 L486.4,1774.7 L487.6,1774.9 L488.8,1775.0 L489.9,1775.2 L491.1,1775.4 L492.2,1775.6 L493.4,1775.7 L494.5,1775.9 L495.7,1776.1 L496.9,1776.3 L498.0,1776.5 L499.2,1776.6 L500.3,1776.8 L501.5,1777.0 L502.6,1777.2 L503.8,1777.4 L505.0,1777.5 L506.1,1777.7 L507.3,1777.9 L508.4,1778.1 L509.6,1778.2 L510.7,1778.4 L511.9,1778.6 L513.1,1778.7 L514.2,1778.9 L515.4,1779.1 L516.5,1779.2 L517.7,1779.4 L518.8,1779.6 L520.0,1779.7 L521.2,1779.9 L522.3,1780.0 L523.5,1780.1 L524.6,1780.3 L525.8,1780.4 L526.9,1780.6 L528.1,1780.7 L529.3,1780.8 L530.4,1780.9 L531.6,1781.1 L532.7,1781.2 L533.9,1781.3 L535.0,1781.4 L536.2,1781.5 L537.4,1781.6 L538.5,1781.7 L539.7,1781.8 L540.8,1781.9 L542.0,1782.0 L543.1,1782.0 L544.3,1782.1 L545.5,1782.2 L546.6,1782.3 L547.8,1782.3 L548.9,1782.4 L550.1,1782.4 L551.2,1782.5 L552.4,1782.5 L553.6,1782.6 L554.7,1782.6 L555.9,1782.6 L557.0,1782.6 L558.2,1782.7 L559.3,1782.7 L560.5,1782.7 L561.7,1782.7 L562.8,1782.7 L564.0,1782.7 L565.1,1782.7 L566.3,1782.6 L567.4,1782.6 L568.6,1782.6 L569.8,1782.5 L570.9,1782.5 L572.1,1782.4 L573.2,1782.4 L574.4,1782.3 L575.5,1782.2 L576.7,1782.1 L577.9,1782.1 L579.0,1782.0 L580.2,1781.9 L581.3,1781.7 L582.5,1781.6 L583.6,1781.5 L584.8,1781.3 L586.0,1781.2 L587.1,1781.0 L588.3,1780.9 L589.4,1780.7 L590.6,1780.5 L591.7,1780.3 L592.9,1780.1 L594.1,1779.8 L595.2,1779.6 L596.4,1779.4 L597.5,1779.1 L598.7,1778.8 L599.8,1778.5 L601.0,1778.2 L602.2,1777.9 L603.3,1777.6 L604.5,1777.2 L605.6,1776.8 L606.8,1776.5 L607.9,1776.1 L609.1,1775.6 L610.3,1775.2 L611.4,1774.7 L612.6,1774.3 L613.7,1773.8 L614.9,1773.3 L616.0,1772.7 L617.2,1772.2 L618.4,1771.6 L619.5,1771.0 L620.7,1770.4 L621.8,1769.8 L623.0,1769.2 L624.1,1768.5 L625.3,1767.8 L626.5,1767.1 L627.6,1766.3 L628.8,1765.6 L629.9,1764.8 L631.1,1764.0 L632.2,1763.1 L633.4,1762.3 L634.6,1761.4 L635.7,1760.5 L636.9,1759.6 L638.0,1758.7 L639.2,1757.7 L640.3,1756.7 L641.5,1755.7 L642.7,1754.7 L643.8,1753.6 L645.0,1752.6 L646.1,1751.5 L647.3,1750.4 L648.4,1749.2 L649.6,1748.1 L650.8,1746.9 L651.9,1745.7 L653.1,1744.5 L654.2,1743.3 L655.4,1742.1 L656.5,1740.8 L657.7,1739.6 L658.9,1738.3 L660.0,1737.0 L661.2,1735.7 L662.3,1734.4 L663.5,1733.1 L664.6,1731.7 L665.8,1730.4 L667.0,1729.1 L668.1,1727.7 L669.3,1726.4 L670.4,1725.0 L671.6,1723.7 L672.7,1722.3 L673.9,1721.0 L675.1,1719.6 L676.2,1718.3 L677.4,1716.9 L678.5,1715.6 L679.7,1714.3 L680.8,1713.0 L682.0,1711.7 L683.2,1710.4 L684.3,1709.1 L685.5,1707.8 L686.6,1706.6 L687.8,1705.4 L688.9,1704.2 L690.1,1703.0 L691.3,1701.8 L692.4,1700.7 L693.6,1699.6 L694.7,1698.5 L695.9,1697.5 L697.0,1696.5 L698.2,1695.5 L699.4,1694.5 L700.5,1693.6 L701.7,1692.7 L702.8,1691.9 L704.0,1691.1 L705.1,1690.3 L706.3,1689.6 L707.5,1688.9 L708.6,1688.2 L709.8,1687.6 L710.9,1687.0 L712.1,1686.5 L713.2,1686.0 L714.4,1685.6 L715.6,1685.2 L716.7,1684.8 L717.9,1684.5 L719.0,1684.2 L720.2,1684.0 L721.3,1683.8 L722.5,1683.6 L723.7,1683.5 L724.8,1683.4 L726.0,1683.4 L727.1,1683.4 L728.3,1683.5 L729.4,1683.6 L730.6,1683.7 L731.8,1683.9 L732.9,1684.1 L734.1,1684.3 L735.2,1684.6 L736.4,1684.9 L737.5,1685.2 L738.7,1685.6 L739.9,1686.0 L741.0,1686.4 L742.2,1686.9 L743.3,1687.3 L744.5,1687.8 L745.6,1688.4 L746.8,1688.9 L748.0,1689.5 L749.1,1690.1 L750.3,1690.7 L751.4,1691.3 L752.6,1691.9 L753.7,1692.5 L754.9,1693.2 L756.1,1693.8 L757.2,1694.5 L758.4,1695.1 L759.5,1695.8 L760.7,1696.5 L761.8,1697.1 L763.0,1697.8 L764.2,1698.5 L765.3,1699.1 L766.5,1699.8 L767.6,1700.4 L768.8,1701.0 L769.9,1701.6 L771.1,1702.2 L772.3,1702.8 L773.4,1703.4 L774.6,1704.0 L775.7,1704.5 L776.9,1705.0 L778.0,1705.6 L779.2,1706.0 L780.4,1706.5 L781.5,1707.0 L782.7,1707.4 L783.8,1707.8 L785.0,1708.1 L786.1,1708.5 L787.3,1708.8 L788.5,1709.1 L789.6,1709.4 L790.8,1709.6 L791.9,1709.8 L793.1,1710.0 L794.3,1710.2 L795.4,1710.3 L796.6,1710.4 L797.7,1710.5 L798.9,1710.6 L800.0,1710.6 L801.2,1710.6 L802.4,1710.5 L803.5,1710.5 L804.7,1710.4 L805.8,1710.2 L807.0,1710.0 L808.1,1709.8 L809.3,1709.6 L810.5,1709.3 L811.6,1708.9 L812.8,1708.6 L813.9,1708.2 L815.1,1707.7 L816.2,1707.2 L817.4,1706.7 L818.6,1706.2 L819.7,1705.6 L820.9,1705.1 L822.0,1704.4 L823.2,1703.8 L824.3,1703.1 L825.5,1702.4 L826.7,1701.7 L827.8,1701.0 L829.0,1700.3 L830.1,1699.5 L831.3,1698.8 L832.4,1698.0 L833.6,1697.2 L834.8,1696.4 L835.9,1695.6 L837.1,1694.8 L838.2,1693.9 L839.4,1693.1 L840.5,1692.3 L841.7,1691.5 L842.9,1690.6 L844.0,1689.8 L845.2,1689.0 L846.3,1688.2 L847.5,1687.4 L848.6,1686.6 L849.8,1685.8 L851.0,1685.0 L852.1,1684.2 L853.3,1683.5 L854.4,1682.7 L855.6,1681.9 L856.7,1681.2 L857.9,1680.4 L859.1,1679.7 L860.2,1678.9 L861.4,1678.2 L862.5,1677.4 L863.7,1676.7 L864.8,1676.0 L866.0,1675.3 L867.2,1674.6 L868.3,1673.9 L869.5,1673.2 L870.6,1672.5 L871.8,1671.8 L872.9,1671.2 L874.1,1670.5 L875.3,1669.9 L876.4,1669.3 L877.6,1668.7 L878.7,1668.1 L879.9,1667.5 L881.0,1666.9 L882.2,1666.3 L883.4,1665.8 L884.5,1665.2 L885.7,1664.7 L886.8,1664.2 L888.0,1663.6 L889.1,1663.1 L890.3,1662.7 L891.5,1662.2 L892.6,1661.7 L893.8,1661.3 L894.9,1660.8 L896.1,1660.4 L897.2,1660.0 L898.4,1659.6 L899.6,1659.2 L900.7,1658.8 L901.9,1658.5 L903.0,1658.1 L904.2,1657.8 L905.3,1657.5 L906.5,1657.1 L907.7,1656.8 L908.8,1656.5 L910.0,1656.2 L911.1,1655.9 L912.3,1655.7 L913.4,1655.4 L914.6,1655.2 L915.8,1654.9 L916.9,1654.7 L918.1,1654.4 L919.2,1654.2 L920.4,1654.0 L921.5,1653.8 L922.7,1653.6 L923.9,1653.4 L925.0,1653.2 L926.2,1653.0 L927.3,1652.8 L928.5,1652.7 L929.6,1652.5 L930.8,1652.3 L932.0,1652.1 L933.1,1652.0 L934.3,1651.8 L935.4,1651.7 L936.6,1651.5 L937.7,1651.3 L938.9,1651.2 L940.1,1651.0 L941.2,1650.9 L942.4,1650.7 L943.5,1650.6 L944.7,1650.4 L945.8,1650.2 L947.0,1650.1 L948.2,1649.9 L949.3,1649.7 L950.5,1649.6 L951.6,1649.4 L952.8,1649.2 L953.9,1649.0 L955.1,1648.8 L956.3,1648.6 L957.4,1648.4 L958.6,1648.2 L959.7,1648.0 L960.9,1647.7 L962.0,1647.5 L963.2,1647.3 L964.4,1647.0 L965.5,1646.8 L966.7,1646.5 L967.8,1646.2 L969.0,1645.9 L970.1,1645.6 L971.3,1645.3 L972.5,1645.0 L973.6,1644.7 L974.8,1644.3 L975.9,1644.0 L977.1,1643.6 L978.2,1643.2 L979.4,1642.9 L980.6,1642.5 L981.7,1642.1 L982.9,1641.6 L984.0,1641.2 L985.2,1640.7 L986.3,1640.3 L987.5,1639.8 L988.7,1639.3 L989.8,1638.8 L991.0,1638.3 L992.1,1637.8 L993.3,1637.2 L994.4,1636.7 L995.6,1636.1 L996.8,1635.5 L997.9,1634.9 L999.1,1634.3 L1000.2,1633.7 L1001.4,1633.0 L1002.5,1632.4 L1003.7,1631.7 L1004.9,1631.0 L1006.0,1630.3 L1007.2,1629.6 L1008.3,1628.8 L1009.5,1628.1 L1010.6,1627.3 L1011.8,1626.5 L1013.0,1625.7 L1014.1,1624.9 L1015.3,1624.1 L1016.4,1623.2 L1017.6,1622.4 L1018.7,1621.5 L1019.9,1620.6 L1021.1,1619.7 L1022.2,1618.8 L1023.4,1617.8 L1024.5,1616.9 L1025.7,1615.9 L1026.8,1614.9 L1028.0,1613.9 L1029.2,1612.9 L1030.3,1611.9 L1031.5,1610.9 L1032.6,1609.8 L1033.8,1608.8 L1034.9,1607.7 L1036.1,1606.6 L1037.3,1605.5 L1038.4,1604.4 L1039.6,1603.2 L1040.7,1602.1 L1041.9,1600.9 L1043.0,1599.8 L1044.2,1598.6 L1045.4,1597.4 L1046.5,1596.2 L1047.7,1594.9 L1048.8,1593.7 L1050.0,1592.5 L1051.1,1591.2 L1052.3,1589.9 L1053.5,1588.7 L1054.6,1587.4 L1055.8,1586.1 L1056.9,1584.8 L1058.1,1583.5 L1059.2,1582.1 L1060.4,1580.8 L1061.6,1579.5 L1062.7,1578.1 L1063.9,1576.8 L1065.0,1575.4 L1066.2,1574.0 L1067.3,1572.7 L1068.5,1571.3 L1069.7,1569.9 L1070.8,1568.5 L1072.0,1567.1 L1073.1,1565.7 L1074.3,1564.3 L1075.4,1562.9 L1076.6,1561.5 L1077.8,1560.1 L1078.9,1558.7 L1080.1,1557.3 L1081.2,1555.9 L1082.4,1554.4 L1083.5,1553.0 L1084.7,1551.6 L1085.9,1550.2 L1087.0,1548.8 L1088.2,1547.3 L1089.3,1545.9 L1090.5,1544.5 L1091.6,1543.1 L1092.8,1541.7 L1094.0,1540.3 L1095.1,1538.9 L1096.3,1537.5 L1097.4,1536.1 L1098.6,1534.7 L1099.7,1533.3 L1100.9,1531.9 L1102.1,1530.5 L1103.2,1529.1 L1104.4,1527.8 L1105.5,1526.4 L1106.7,1525.1 L1107.8,1523.7 L1109.0,1522.4 L1110.2,1521.0 L1111.3,1519.7 L1112.5,1518.4 L1113.6,1517.1 L1114.8,1515.8 L1115.9,1514.5 L1117.1,1513.2 L1118.3,1511.9 L1119.4,1510.7 L1120.6,1509.4 L1121.7,1508.2 L1122.9,1507.0 L1124.1,1505.8 L1125.2,1504.6 L1126.4,1503.4 L1127.5,1502.2 L1128.7,1501.0 L1129.8,1499.9 L1131.0,1498.8 L1132.2,1497.6 L1133.3,1496.5 L1134.5,1495.4 L1135.6,1494.3 L1136.8,1493.2 L1137.9,1492.2 L1139.1,1491.1 L1140.3,1490.1 L1141.4,1489.1 L1142.6,1488.1 L1143.7,1487.1 L1144.9,1486.1 L1146.0,1485.1 L1147.2,1484.2 L1148.4,1483.2 L1149.5,1482.3 L1150.7,1481.4 L1151.8,1480.5 L1153.0,1479.6 L1154.1,1478.8 L1155.3,1477.9 L1156.5,1477.1 L1157.6,1476.3 L1158.8,1475.5 L1159.9,1474.7 L1161.1,1473.9 L1162.2,1473.2 L1163.4,1472.4 L1164.6,1471.7 L1165.7,1471.0 L1166.9,1470.3 L1168.0,1469.7 L1169.2,1469.0 L1170.3,1468.4 L1171.5,1467.8 L1172.7,1467.2 L1173.8,1466.6 L1175.0,1466.1 L1176.1,1465.5 L1177.3,1465.0 L1178.4,1464.5 L1179.6,1464.0 L1180.8,1463.5 L1181.9,1463.1 L1183.1,1462.7 L1184.2,1462.2 L1185.4,1461.8 L1186.5,1461.5 L1187.7,1461.1 L1188.9,1460.8 L1190.0,1460.5 L1191.2,1460.2 L1192.3,1459.9 L1193.5,1459.6 L1194.6,1459.4 L1195.8,1459.1 L1197.0,1458.9 L1198.1,1458.8 L1199.3,1458.6 L1200.4,1458.4 L1201.6,1458.3 L1202.7,1458.2 L1203.9,1458.1 L1205.1,1458.0 L1206.2,1458.0 L1207.4,1458.0 L1208.5,1457.9 L1209.7,1457.9 L1210.8,1458.0 L1212.0,1458.0 L1213.2,1458.1 L1214.3,1458.2 L1215.5,1458.3 L1216.6,1458.4 L1217.8,1458.5 L1218.9,1458.7 L1220.1,1458.8 L1221.3,1459.0 L1222.4,1459.2 L1223.6,1459.5 L1224.7,1459.7 L1225.9,1460.0 L1227.0,1460.2 L1228.2,1460.5 L1229.4,1460.8 L1230.5,1461.2 L1231.7,1461.5 L1232.8,1461.9 L1234.0,1462.3 L1235.1,1462.7 L1236.3,1463.1 L1237.5,1463.5 L1238.6,1464.0 L1239.8,1464.4 L1240.9,1464.9 L1242.1,1465.4 L1243.2,1465.9 L1244.4,1466.4 L1245.6,1467.0 L1246.7,1467.6 L1247.9,1468.1 L1249.0,1468.7 L1250.2,1469.4 L1251.3,1470.0 L1252.5,1470.6 L1253.7,1471.3 L1254.8,1472.0 L1256.0,1472.7 L1257.1,1473.4 L1258.3,1474.1 L1259.4,1474.8 L1260.6,1475.6 L1261.8,1476.3 L1262.9,1477.1 L1264.1,1477.9 L1265.2,1478.7 L1266.4,1479.6 L1267.5,1480.4 L1268.7,1481.2 L1269.9,1482.1 L1271.0,1483.0 L1272.2,1483.9 L1273.3,1484.8 L1274.5,1485.7 L1275.6,1486.7 L1276.8,1487.6 L1278.0,1488.6 L1279.1,1489.5 L1280.3,1490.5 L1281.4,1491.5 L1282.6,1492.5 L1283.7,1493.6 L1284.9,1494.6 L1286.1,1495.6 L1287.2,1496.7 L1288.4,1497.8 L1289.5,1498.8 L1290.7,1499.9 L1291.8,1501.0 L1293.0,1502.1 L1294.2,1503.3 L1295.3,1504.4 L1296.5,1505.5 L1297.6,1506.7 L1298.8,1507.9 L1299.9,1509.0 L1301.1,1510.2 L1302.3,1511.4 L1303.4,1512.6 L1304.6,1513.8 L1305.7,1515.0 L1306.9,1516.3 L1308.0,1517.5 L1309.2,1518.7 L1310.4,1520.0 L1311.5,1521.2 L1312.7,1522.5 L1313.8,1523.8 L1315.0,1525.0 L1316.1,1526.3 L1317.3,1527.6 L1318.5,1528.9 L1319.6,1530.2 L1320.8,1531.5 L1321.9,1532.8 L1323.1,1534.1 L1324.2,1535.4 L1325.4,1536.7 L1326.6,1538.0 L1327.7,1539.3 L1328.9,1540.6 L1330.0,1541.9 L1331.2,1543.2 L1332.3,1544.5 L1333.5,1545.8 L1334.7,1547.1 L1335.8,1548.4 L1337.0,1549.7 L1338.1,1551.0 L1339.3,1552.4 L1340.4,1553.7 L1341.6,1555.0 L1342.8,1556.3 L1343.9,1557.6 L1345.1,1558.9 L1346.2,1560.2 L1347.4,1561.5 L1348.5,1562.8 L1349.7,1564.1 L1350.9,1565.4 L1352.0,1566.7 L1353.2,1568.0 L1354.3,1569.2 L1355.5,1570.5 L1356.6,1571.8 L1357.8,1573.0 L1359.0,1574.3 L1360.1,1575.5 L1361.3,1576.7 L1362.4,1577.9 L1363.6,1579.1 L1364.7,1580.3 L1365.9,1581.4 L1367.1,1582.5 L1368.2,1583.6 L1369.4,1584.7 L1370.5,1585.7 L1371.7,1586.7 L1372.8,1587.7 L1374.0,1588.6 L1375.2,1589.5 L1376.3,1590.3 L1377.5,1591.0 L1378.6,1591.7 L1379.8,1592.3 L1380.9,1592.8 L1382.1,1593.2 L1383.3,1593.6 L1384.4,1593.8 L1385.6,1594.0 L1386.7,1594.0 L1387.9,1593.9 L1389.0,1593.7 L1390.2,1593.4 L1391.4,1592.9 L1392.5,1592.4 L1393.7,1591.6 L1394.8,1590.8 L1396.0,1589.8 L1397.1,1588.7 L1398.3,1587.5 L1399.5,1586.2 L1400.6,1584.7 L1401.8,1583.2 L1402.9,1581.5 L1404.1,1579.8 L1405.2,1578.1 L1406.4,1576.3 L1407.6,1574.4 L1408.7,1572.6 L1409.9,1570.7 L1411.0,1568.9 L1412.2,1567.1 L1413.3,1565.4 L1414.5,1563.7 L1415.7,1562.1 L1416.8,1560.6 L1418.0,1559.2 L1419.1,1557.9 L1420.3,1556.7 L1421.4,1555.6 L1422.6,1554.6 L1423.8,1553.8 L1424.9,1553.1 L1426.1,1552.4 L1427.2,1551.9 L1428.4,1551.4 L1429.5,1551.1 L1430.7,1550.7 L1431.9,1550.4 L1433.0,1550.2 L1434.2,1549.9 L1435.3,1549.6 L1436.5,1549.2 L1437.6,1548.8 L1438.8,1548.4 L1440.0,1547.8 L1441.1,1547.1 L1442.3,1546.3 L1443.4,1545.4 L1444.6,1544.3 L1445.7,1543.0 L1446.9,1541.6 L1448.1,1540.0 L1449.2,1538.2 L1450.4,1536.3 L1451.5,1534.1 L1452.7,1531.8 L1453.9,1529.3 L1455.0,1526.6 L1456.2,1523.7 L1457.3,1520.7 L1458.5,1517.5 L1459.6,1514.2 L1460.8,1510.7 L1462.0,1507.0 L1463.1,1503.3 L1464.3,1499.4 L1465.4,1495.4 L1466.6,1491.3 L1467.7,1487.2 L1468.9,1482.9 L1470.1,1478.6 L1471.2,1474.3 L1472.4,1469.9 L1473.5,1465.4 L1474.7,1461.0 L1475.8,1456.5 L1477.0,1452.0 L1478.2,1447.5 L1479.3,1443.0 L1480.5,1438.5 L1481.6,1434.0 L1482.8,1429.6 L1483.9,1425.2 L1485.1,1420.9 L1486.3,1416.6 L1487.4,1412.3 L1488.6,1408.2 L1489.7,1404.2 L1490.9,1400.2 L1492.0,1396.3 L1493.2,1392.6 L1494.4,1389.0 L1495.5,1385.5 L1496.7,1382.1 L1497.8,1378.9 L1499.0,1375.9 L1500.1,1373.0 L1501.3,1370.3 L1502.5,1367.7 L1503.6,1365.3 L1504.8,1363.1 L1505.9,1361.1 L1507.1,1359.3 L1508.2,1357.7 L1509.4,1356.3 L1510.6,1355.1 L1511.7,1354.1 L1512.9,1353.3 L1514.0,1352.8 L1515.2,1352.4 L1516.3,1352.3 L1517.5,1352.4 L1518.7,1352.8 L1519.8,1353.3 L1521.0,1354.1 L1522.1,1355.2 L1523.3,1356.4 L1524.4,1357.8 L1525.6,1359.5 L1526.8,1361.4 L1527.9,1363.4 L1529.1,1365.7 L1530.2,1368.1 L1531.4,1370.8 L1532.5,1373.6 L1533.7,1376.6 L1534.9,1379.8 L1536.0,1383.2 L1537.2,1386.8 L1538.3,1390.5 L1539.5,1394.3 L1540.6,1398.3 L1541.8,1402.5 L1543.0,1406.8 L1544.1,1411.2 L1545.3,1415.8 L1546.4,1420.5 L1547.6,1425.2 L1548.7,1430.1 L1549.9,1435.1 L1551.1,1440.2 L1552.2,1445.3 L1553.4,1450.5 L1554.5,1455.8 L1555.7,1461.2 L1556.8,1466.6 L1558.0,1472.0 L1559.2,1477.5 L1560.3,1483.0 L1561.5,1488.6 L1562.6,1494.1 L1563.8,1499.7 L1564.9,1505.2 L1566.1,1510.8 L1567.3,1516.3 L1568.4,1521.9 L1569.6,1527.4 L1570.7,1532.8 L1571.9,1538.3 L1573.0,1543.7 L1574.2,1549.0 L1575.4,1554.3 L1576.5,1559.6 L1577.7,1564.7 L1578.8,1569.9 L1580.0,1574.9 L1581.1,1579.9 L1582.3,1584.8 L1583.5,1589.7 L1584.6,1594.4 L1585.8,1599.1 L1586.9,1603.7 L1588.1,1608.2 L1589.2,1612.6 L1590.4,1616.9 L1591.6,1621.2 L1592.7,1625.3 L1593.9,1629.4 L1595.0,1633.3 L1596.2,1637.2 L1597.3,1640.9 L1598.5,1644.6 L1599.7,1648.2 L1600.8,1651.6 L1602.0,1655.0 L1603.1,1658.3 L1604.3,1661.4 L1605.4,1664.5 L1606.6,1667.5 L1607.8,1670.4 L1608.9,1673.2 L1610.1,1675.9 L1611.2,1678.5 L1612.4,1681.0 L1613.5,1683.4 L1614.7,1685.8 L1615.9,1688.0 L1617.0,1690.2 L1618.2,1692.3 L1619.3,1694.3 L1620.5,1696.2 L1621.6,1698.1 L1622.8,1699.8 L1624.0,1701.5 L1625.1,1703.2 L1626.3,1704.7 L1627.4,1706.2 L1628.6,1707.6 L1629.7,1709.0 L1630.9,1710.3 L1632.1,1711.5 L1633.2,1712.7 L1634.4,1713.8 L1635.5,1714.9 L1636.7,1715.9 L1637.8,1716.9 L1639.0,1717.8 L1640.2,1718.7 L1641.3,1719.5 L1642.5,1720.3 L1643.6,1721.0 L1644.8,1721.7 L1645.9,1722.4 L1647.1,1723.0 L1648.3,1723.6 L1649.4,1724.2 L1650.6,1724.7 L1651.7,1725.2 L1652.9,1725.7 L1654.0,1726.1 L1655.2,1726.5 L1656.4,1726.9 L1657.5,1727.3 L1658.7,1727.7 L1659.8,1728.0 L1661.0,1728.3 L1662.1,1728.6 L1663.3,1728.9 L1664.5,1729.2 L1665.6,1729.4 L1666.8,1729.7 L1667.9,1729.9 L1669.1,1730.1 L1670.2,1730.3 L1671.4,1730.5 L1672.6,1730.7 L1673.7,1730.9 L1674.9,1731.0 L1676.0,1731.2 L1677.2,1731.3 L1678.3,1731.5 L1679.5,1731.6 L1680.7,1731.7 L1681.8,1731.8 L1683.0,1731.9 L1684.1,1732.1 L1685.3,1732.2 L1686.4,1732.3 L1687.6,1732.3 L1688.8,1732.4 L1689.9,1732.5 L1691.1,1732.6 L1692.2,1732.7 L1693.4,1732.7 L1694.5,1732.8 L1695.7,1732.8 L1696.9,1732.9 L1698.0,1732.9 L1699.2,1733.0 L1700.3,1733.0 L1701.5,1733.1 L1702.6,1733.1 L1703.8,1733.1 L1705.0,1733.1 L1706.1,1733.1 L1707.3,1733.1 L1708.4,1733.1 L1709.6,1733.1 L1710.7,1733.1 L1711.9,1733.1 L1713.1,1733.1 L1714.2,1733.0 L1715.4,1733.0 L1716.5,1732.9 L1717.7,1732.8 L1718.8,1732.8 L1720.0,1732.7 L1721.2,1732.6 L1722.3,1732.5 L1723.5,1732.4 L1724.6,1732.2 L1725.8,1732.1 L1726.9,1732.0 L1728.1,1731.9 L1729.3,1731.7 L1730.4,1731.6 L1731.6,1731.4 L1732.7,1731.2 L1733.9,1731.0 L1735.0,1730.8 L1736.2,1730.6 L1737.4,1730.3 L1738.5,1730.1 L1739.7,1729.8 L1740.8,1729.4 L1742.0,1729.1 L1743.1,1728.7 L1744.3,1728.3 L1745.5,1727.9 L1746.6,1727.4 L1747.8,1726.9 L1748.9,1726.4 L1750.1,1725.8 L1751.2,1725.2 L1752.4,1724.5 L1753.6,1723.8 L1754.7,1723.1 L1755.9,1722.3 L1757.0,1721.5 L1758.2,1720.7 L1759.3,1719.8 L1760.5,1718.8 L1761.7,1717.9 L1762.8,1716.8 L1764.0,1715.8 L1765.1,1714.7 L1766.3,1713.5 L1767.4,1712.3 L1768.6,1711.0 L1769.8,1709.7 L1770.9,1708.3 L1772.1,1706.8 L1773.2,1705.3 L1774.4,1703.8 L1775.5,1702.1 L1776.7,1700.4 L1777.9,1698.7 L1779.0,1696.8 L1780.2,1694.9 L1781.3,1692.9 L1782.5,1690.9 L1783.7,1688.8 L1784.8,1686.5 L1786.0,1684.3 L1787.1,1681.9 L1788.3,1679.4 L1789.4,1676.9 L1790.6,1674.3 L1791.8,1671.6 L1792.9,1668.8 L1794.1,1666.0 L1795.2,1663.0 L1796.4,1660.0 L1797.5,1656.9 L1798.7,1653.7 L1799.9,1650.4 L1801.0,1647.0 L1802.2,1643.5 L1803.3,1639.9 L1804.5,1636.2 L1805.6,1632.4 L1806.8,1628.6 L1808.0,1624.6 L1809.1,1620.5 L1810.3,1616.3 L1811.4,1612.1 L1812.6,1607.7 L1813.7,1603.2 L1814.9,1598.6 L1816.1,1593.9 L1817.2,1589.1 L1818.4,1584.2 L1819.5,1579.2 L1820.7,1574.0 L1821.8,1568.8 L1823.0,1563.5 L1824.2,1558.0 L1825.3,1552.5 L1826.5,1546.8 L1827.6,1541.1 L1828.8,1535.2 L1829.9,1529.2 L1831.1,1523.2 L1832.3,1517.0 L1833.4,1510.7 L1834.6,1504.4 L1835.7,1497.9 L1836.9,1491.4 L1838.0,1484.7 L1839.2,1478.0 L1840.4,1471.1 L1841.5,1464.2 L1842.7,1457.2 L1843.8,1450.1 L1845.0,1442.9 L1846.1,1435.6 L1847.3,1428.3 L1848.5,1420.9 L1849.6,1413.4 L1850.8,1405.8 L1851.9,1398.2 L1853.1,1390.5 L1854.2,1382.7 L1855.4,1374.9 L1856.6,1367.0 L1857.7,1359.0 L1858.9,1351.0 L1860.0,1343.0 L1861.2,1334.9 L1862.3,1326.8 L1863.5,1318.7 L1864.7,1310.5 L1865.8,1302.3 L1867.0,1294.0 L1868.1,1285.8 L1869.3,1277.5 L1870.4,1269.2 L1871.6,1261.0 L1872.8,1252.7 L1873.9,1244.4 L1875.1,1236.1 L1876.2,1227.8 L1877.4,1219.5 L1878.5,1211.3 L1879.7,1203.1 L1880.9,1194.9 L1882.0,1186.7 L1883.2,1178.6 L1884.3,1170.5 L1885.5,1162.5 L1886.6,1154.5 L1887.8,1146.6 L1889.0,1138.7 L1890.1,1130.9 L1891.3,1123.2 L1892.4,1115.5 L1893.6,1107.9 L1894.7,1100.4 L1895.9,1093.0 L1897.1,1085.6 L1898.2,1078.4 L1899.4,1071.2 L1900.5,1064.1 L1901.7,1057.1 L1902.8,1050.2 L1904.0,1043.4 L1905.2,1036.7 L1906.3,1030.1 L1907.5,1023.6 L1908.6,1017.2 L1909.8,1010.9 L1910.9,1004.6 L1912.1,998.5 L1913.3,992.4 L1914.4,986.5 L1915.6,980.6 L1916.7,974.7 L1917.9,969.0 L1919.0,963.3 L1920.2,957.7 L1921.4,952.1 L1922.5,946.6 L1923.7,941.1 L1924.8,935.7 L1926.0,930.3 L1927.1,924.9 L1928.3,919.4 L1929.5,914.0 L1930.6,908.6 L1931.8,903.1 L1932.9,897.6 L1934.1,892.1 L1935.2,886.4 L1936.4,880.7 L1937.6,875.0 L1938.7,869.1 L1939.9,863.1 L1941.0,856.9 L1942.2,850.7 L1943.3,844.3 L1944.5,837.7 L1945.7,831.0 L1946.8,824.1 L1948.0,816.9 L1949.1,809.6 L1950.3,802.1 L1951.4,794.3 L1952.6,786.3 L1953.8,778.0 L1954.9,769.5 L1956.1,760.8 L1957.2,751.8 L1958.4,742.5 L1959.5,732.9 L1960.7,723.1 L1961.9,713.1 L1963.0,702.8 L1964.2,692.2 L1965.3,681.4 L1966.5,670.4 L1967.6,659.1 L1968.8,647.7 L1970.0,636.0 L1971.1,624.2 L1972.3,612.3 L1973.4,600.2 L1974.6,587.9 L1975.7,575.7 L1976.9,563.3 L1978.1,550.9 L1979.2,538.6 L1980.4,526.3 L1981.5,514.0 L1982.7,501.9 L1983.8,489.9 L1985.0,478.1 L1986.2,466.5 L1987.3,455.2 L1988.5,444.3 L1989.6,433.6 L1990.8,423.4 L1991.9,413.6 L1993.1,404.2 L1994.3,395.4 L1995.4,387.2 L1996.6,379.6 L1997.7,372.6 L1998.9,366.3 L2000.0,360.7 L2001.2,355.9 L2002.4,351.9 L2003.5,348.7 L2004.7,346.3 L2005.8,344.9 L2007.0,344.4 L2008.1,344.8 L2009.3,346.1 L2010.5,348.5 L2011.6,351.8 L2012.8,356.1 L2013.9,361.5 L2015.1,367.9 L2016.2,375.3 L2017.4,383.7 L2018.6,393.2 L2019.7,403.6 L2020.9,415.1 L2022.0,427.5 L2023.2,440.9 L2024.3,455.2 L2025.5,470.5 L2026.7,486.6 L2027.8,503.6 L2029.0,521.4 L2030.1,540.1 L2031.3,559.4 L2032.4,579.5 L2033.6,600.3 L2034.8,621.6 L2035.9,643.6 L2037.1,666.1 L2038.2,689.1 L2039.4,712.5 L2040.5,736.4 L2041.7,760.5 L2042.9,785.0 L2044.0,809.7 L2045.2,834.6 L2046.3,859.7 L2047.5,884.8 L2048.6,910.0 L2049.8,935.2 L2051.0,960.3 L2052.1,985.4 L2053.3,1010.3 L2054.4,1035.1 L2055.6,1059.6 L2056.7,1083.9 L2057.9,1107.9 L2059.1,1131.6 L2060.2,1155.0 L2061.4,1177.9 L2062.5,1200.5 L2063.7,1222.6 L2064.8,1244.3 L2066.0,1265.5 L2067.2,1286.2 L2068.3,1306.4 L2069.5,1326.1 L2070.6,1345.3 L2071.8,1363.9 L2072.9,1381.9 L2074.1,1399.4 L2075.3,1416.3 L2076.4,1432.7 L2077.6,1448.5 L2078.7,1463.7 L2079.9,1478.4 L2081.0,1492.5 L2082.2,1506.1 L2083.4,1519.1 L2084.5,1531.6 L2085.7,1543.6 L2086.8,1555.0 L2088.0,1566.0 L2089.1,1576.5 L2090.3,1586.5 L2091.5,1596.1 L2092.6,1605.2 L2093.8,1614.0 L2094.9,1622.3 L2096.1,1630.3 L2097.2,1637.8 L2098.4,1645.0 L2099.6,1651.9 L2100.7,1658.4 L2101.9,1664.6 L2103.0,1670.5 L2104.2,1676.1 L2105.3,1681.4 L2106.5,1686.4 L2107.7,1691.1 L2108.8,1695.6 L2110.0,1699.9 L2111.1,1703.9 L2112.3,1707.7 L2113.5,1711.2 L2114.6,1714.6 L2115.8,1717.8 L2116.9,1720.7 L2118.1,1723.5 L2119.2,1726.2 L2120.4,1728.6 L2121.6,1730.9 L2122.7,1733.1 L2123.9,1735.1 L2125.0,1737.0 L2126.2,1738.8 L2127.3,1740.5 L2128.5,1742.1 L2129.7,1743.6 L2130.8,1745.0 L2132.0,1746.4 L2133.1,1747.7 L2134.3,1748.9 L2135.4,1750.0 L2136.6,1751.1 L2137.8,1752.1 L2138.9,1753.1 L2140.1,1754.0 L2141.2,1754.9 L2142.4,1755.7 L2143.5,1756.5 L2144.7,1757.3 L2145.9,1758.0 L2147.0,1758.7 L2148.2,1759.3 L2149.3,1759.9 L2150.5,1760.5 L2151.6,1761.1 L2152.8,1761.6 L2154.0,1762.1 L2155.1,1762.6 L2156.3,1763.0 L2157.4,1763.4 L2158.6,1763.8 L2159.7,1764.2 L2160.9,1764.6 L2162.1,1764.9 L2163.2,1765.2 L2164.4,1765.5 L2165.5,1765.8 L2166.7,1766.1 L2167.8,1766.3 L2169.0,1766.6 L2170.2,1766.8 L2171.3,1767.0 L2172.5,1767.2 L2173.6,1767.4 L2174.8,1767.5 L2175.9,1767.7 L2177.1,1767.9 L2178.3,1768.0 L2179.4,1768.2 L2180.6,1768.3 L2181.7,1768.5 L2182.9,1768.6 L2184.0,1768.7 L2185.2,1768.8 L2186.4,1769.0 L2187.5,1769.1 L2188.7,1769.2 L2189.8,1769.3 L2191.0,1769.4 L2192.1,1769.5 L2193.3,1769.6 L2194.5,1769.6 L2195.6,1769.7 L2196.8,1769.8 L2197.9,1769.9 L2199.1,1770.0 L2200.2,1770.0 L2201.4,1770.1 L2202.6,1770.2 L2203.7,1770.2 L2204.9,1770.3 L2206.0,1770.3 L2207.2,1770.4 L2208.3,1770.5 L2209.5,1770.5 L2210.7,1770.6 L2211.8,1770.6 L2213.0,1770.7 L2214.1,1770.7 L2215.3,1770.8 L2216.4,1770.8 L2217.6,1770.9 L2218.8,1770.9 L2219.9,1770.9 L2221.1,1771.0 L2222.2,1771.0 L2223.4,1771.1 L2224.5,1771.1 L2225.7,1771.1 L2226.9,1771.2 L2228.0,1771.2 L2229.2,1771.2 L2230.3,1771.3 L2231.5,1771.3 L2232.6,1771.3 L2233.8,1771.4 L2235.0,1771.4 L2236.1,1771.5 L2237.3,1771.5 L2238.4,1771.5 L2239.6,1771.6 L2240.7,1771.6 L2241.9,1771.6 L2243.1,1771.6 L2244.2,1771.7 L2245.4,1771.7 L2246.5,1771.7 L2247.7,1771.8 L2248.8,1771.8 L2250.0,1771.8 L2251.2,1771.8 L2252.3,1771.9 L2253.5,1771.9 L2254.6,1771.9 L2255.8,1771.9 L2256.9,1772.0 L2258.1,1772.0 L2259.3,1772.0 L2260.4,1772.0 L2261.6,1772.0 L2262.7,1772.1 L2263.9,1772.1 L2265.0,1772.1 L2266.2,1772.1 L2267.4,1772.1 L2268.5,1772.2 L2269.7,1772.2 L2270.8,1772.2 L2272.0,1772.2 L2273.1,1772.2 L2274.3,1772.3 L2275.5,1772.3 L2276.6,1772.3 L2277.8,1772.3 L2278.9,1772.3 L2280.1,1772.3 L2281.2,1772.4 L2282.4,1772.4 L2283.6,1772.4 L2284.7,1772.4 L2285.9,1772.5 L2287.0,1772.5 L2288.2,1772.5 L2289.3,1772.5 L2290.5,1772.5 L2291.7,1772.6 L2292.8,1772.6 L2294.0,1772.6 L2295.1,1772.6 L2296.3,1772.7 L2297.4,1772.7 L2298.6,1772.7 L2299.8,1772.8 L2300.9,1772.8 L2302.1,1772.8 L2303.2,1772.9 L2304.4,1772.9 L2305.5,1772.9 L2306.7,1773.0 L2307.9,1773.0 L2309.0,1773.0 L2310.2,1773.1 L2311.3,1773.1 L2312.5,1773.2 L2313.6,1773.2 L2314.8,1773.2 L2316.0,1773.3 L2317.1,1773.3 L2318.3,1773.4 L2319.4,1773.4 L2320.6,1773.5 L2321.7,1773.5 L2322.9,1773.6 L2324.1,1773.7 L2325.2,1773.7 L2326.4,1773.8 L2327.5,1773.8 L2328.7,1773.9 L2329.8,1774.0 L2331.0,1774.0 L2332.2,1774.1 L2333.3,1774.2 L2334.5,1774.3 L2335.6,1774.3 L2336.8,1774.4 L2337.9,1774.5 L2339.1,1774.5 L2340.3,1774.6 L2341.4,1774.7 L2342.6,1774.8 L2343.7,1774.9 L2344.9,1774.9 L2346.0,1775.0 L2347.2,1775.1 L2348.4,1775.2 L2349.5,1775.3 L2350.7,1775.4 L2351.8,1775.5 L2353.0,1775.5 L2354.1,1775.6 L2355.3,1775.7 L2356.5,1775.8 L2357.6,1775.9 L2358.8,1776.0 L2359.9,1776.1 L2361.1,1776.2 L2362.2,1776.3 L2363.4,1776.4 L2364.6,1776.5 L2365.7,1776.6 L2366.9,1776.7 L2368.0,1776.8 L2369.2,1776.9 L2370.3,1777.0 L2371.5,1777.1 L2372.7,1777.2 L2373.8,1777.3 L2375.0,1777.4 L2376.1,1777.5 L2377.3,1777.6" fill="none" stroke="#1a1aff" stroke-width="3" stroke-linejoin="round"/>
<path d="M520.0,745.7 L522.2,748.5 L524.4,746.7 L526.6,748.4 L528.8,746.0 L531.0,746.6 L533.2,751.8 L535.4,747.3 L537.6,745.4 L539.8,748.2 L542.0,745.6 L544.2,745.3 L546.4,749.0 L548.6,745.1 L550.8,747.8 L553.0,744.3 L555.2,748.0 L557.4,746.6 L559.6,744.5 L561.8,744.6 L564.0,744.3 L566.2,746.3 L568.4,748.0 L570.6,743.9 L572.8,748.7 L575.0,745.1 L577.2,744.2 L579.4,743.4 L581.6,749.4 L583.8,746.4 L586.0,745.6 L588.2,744.1 L590.4,745.0 L592.6,739.3 L594.8,742.7 L597.0,747.7 L599.2,744.6 L601.4,746.5 L603.6,748.6 L605.8,745.4 L608.0,746.6 L610.2,748.2 L612.4,745.6 L614.6,745.1 L616.8,745.0 L619.0,745.5 L621.2,744.9 L623.4,748.1 L625.6,746.9 L627.8,745.2 L630.0,741.7 L632.2,746.2 L634.4,744.8 L636.6,742.0 L638.8,738.4 L641.0,738.9 L643.2,743.3 L645.4,742.3 L647.6,742.5 L649.8,745.3 L652.0,748.2 L654.2,745.3 L656.4,745.2 L658.6,744.6 L660.8,746.8 L663.0,744.8 L665.2,742.7 L667.4,740.7 L669.6,741.8 L671.8,744.0 L674.0,742.2 L676.2,745.6 L678.4,744.0 L680.6,745.2 L682.8,746.0 L685.0,745.6 L687.2,743.0 L689.4,744.0 L691.6,747.2 L693.8,742.1 L696.0,745.1 L698.2,747.5 L700.4,745.6 L702.6,745.9 L704.8,744.5 L707.0,745.8 L709.2,746.3 L711.4,747.1 L713.6,744.4 L715.8,746.3 L718.0,743.5 L720.2,746.8 L722.4,745.7 L724.6,745.9 L726.8,746.9 L729.0,747.4 L731.2,743.8 L733.4,746.7 L735.6,744.4 L737.8,743.2 L740.0,743.4 L742.2,740.9 L744.4,743.0 L746.6,744.1 L748.8,743.0 L751.0,745.0 L753.2,743.0 L755.4,743.2 L757.6,741.0 L759.8,743.7 L762.0,742.8 L764.2,743.4 L766.4,744.6 L768.6,743.6 L770.8,740.6 L773.0,740.2 L775.2,743.2 L777.4,744.5 L779.6,745.2 L781.8,746.8 L784.0,747.9 L786.2,746.6 L788.4,746.1 L790.6,744.5 L792.8,743.9 L795.0,744.8 L797.2,745.4 L799.4,745.1 L801.6,745.4 L803.8,745.8 L806.0,746.6 L808.2,745.4 L810.4,745.3 L812.6,744.6 L814.8,743.3 L817.0,742.5 L819.2,745.6 L821.4,745.9 L823.6,744.7 L825.8,743.6 L828.0,749.2 L830.2,745.3 L832.4,746.1 L834.6,747.3 L836.8,744.5 L839.0,745.9 L841.2,747.7 L843.4,746.0 L845.6,745.1 L847.8,745.6 L850.0,744.4 L852.2,745.8 L854.4,744.8 L856.6,744.9 L858.8,744.7 L861.0,745.5 L863.2,743.4 L865.4,742.6 L867.6,738.4 L869.8,744.8 L872.0,746.8 L874.2,746.3 L876.4,743.7 L878.6,741.6 L880.8,742.4 L883.0,740.2 L885.2,743.6 L887.4,741.2 L889.6,745.2 L891.8,747.4 L894.0,742.4 L896.2,745.2 L898.4,744.1 L900.6,742.2 L902.8,743.0 L905.0,743.7 L907.2,746.4 L909.4,743.3 L911.6,747.7 L913.8,749.0 L916.0,746.7 L918.2,746.2 L920.4,743.9 L922.6,742.1 L924.8,744.7 L927.0,744.0 L929.2,745.6 L931.4,748.6 L933.6,744.9 L935.8,744.4 L938.0,745.6 L940.2,739.2 L942.4,739.2 L944.6,740.3 L946.8,739.6 L949.0,743.1 L951.2,742.6 L953.4,747.3 L955.6,748.2 L957.8,747.4 L960.0,745.1 L962.2,746.7 L964.4,746.2 L966.6,742.1 L968.8,744.9 L971.0,746.2 L973.2,744.9 L975.4,747.8 L977.6,748.1 L979.8,743.1 L982.0,744.1 L984.2,741.7 L986.4,743.6 L988.6,740.3 L990.8,744.8 L993.0,744.3 L995.2,745.4 L997.4,743.5 L999.6,741.1 L1001.8,745.5 L1004.0,742.4 L1006.2,745.5 L1008.4,742.8 L1010.6,743.7 L1012.8,745.8 L1015.0,743.3 L1017.2,745.5 L1019.4,741.3 L1021.6,745.5 L1023.8,743.0 L1026.0,743.1 L1028.2,742.9 L1030.4,744.6 L1032.6,746.0 L1034.8,740.9 L1037.0,743.1 L1039.2,740.8 L1041.4,743.7 L1043.6,741.5 L1045.8,741.8 L1048.0,740.6 L1050.2,743.1 L1052.4,744.3 L1054.6,742.7 L1056.8,744.8 L1059.0,741.9 L1061.2,744.6 L1063.4,744.8 L1065.6,742.1 L1067.8,744.6 L1070.0,740.4 L1072.2,741.8 L1074.4,743.2 L1076.6,744.3 L1078.8,744.3 L1081.0,745.5 L1083.2,744.1 L1085.4,745.2 L1087.6,744.4 L1089.8,743.2 L1092.0,742.1 L1094.2,747.6 L1096.4,740.1 L1098.6,742.6 L1100.8,746.9 L1103.0,745.5 L1105.2,743.6 L1107.4,745.3 L1109.6,746.3 L1111.8,745.4 L1114.0,743.1 L1116.2,745.7 L1118.4,744.3 L1120.0,743.0 L1125.1,743.0 L1130.6,743.3 L1135.4,743.2 L1138.4,739.2 L1143.1,736.4 L1146.9,737.1 L1150.4,740.0 L1153.9,742.9 L1155.9,739.0 L1158.2,735.3 L1161.0,731.9 L1164.2,728.9 L1171.4,729.5 L1174.2,724.4 L1176.1,718.7 L1179.0,714.5 L1180.8,709.7 L1183.9,705.7 L1185.8,701.6 L1188.2,697.9 L1190.4,694.1 L1191.7,689.8 L1192.8,685.3 L1195.2,681.7 L1196.6,677.2 L1199.0,673.3 L1202.2,669.0 L1204.9,664.3 L1207.0,659.5 L1209.0,654.6 L1209.4,650.2 L1210.2,646.0 L1210.9,641.8 L1212.4,636.4 L1212.4,630.0 L1214.1,626.0 L1214.3,621.1 L1215.0,616.4 L1216.0,611.1 L1216.4,605.4 L1217.7,599.9 L1218.7,594.4 L1217.7,589.2 L1219.1,585.5 L1220.4,581.8 L1220.3,577.2 L1221.0,573.1 L1220.9,568.5 L1220.6,563.8 L1221.2,559.7 L1222.6,555.7 L1223.4,551.2 L1223.4,546.2 L1224.2,541.8 L1225.1,537.5 L1224.9,532.4 L1226.0,528.4 L1227.2,524.6 L1227.9,520.3 L1227.3,515.3 L1228.6,511.5 L1228.0,506.4 L1228.3,502.0 L1228.3,497.5 L1230.1,494.3 L1230.1,489.8 L1231.7,486.5 L1231.4,481.9 L1231.9,477.7 L1231.4,472.7 L1233.1,469.2 L1232.6,464.3 L1233.0,459.9 L1232.5,454.9 L1234.2,451.3 L1234.5,447.3 L1234.2,442.7 L1234.9,438.9 L1235.3,434.9 L1235.9,430.9 L1235.9,426.6 L1236.8,422.7 L1236.2,417.7 L1236.2,413.3 L1236.5,408.9 L1235.8,403.9 L1236.7,400.0 L1237.7,396.2 L1237.6,391.6 L1237.6,387.2 L1238.5,383.4 L1237.9,378.6 L1239.0,375.0 L1239.8,371.1 L1240.4,367.1 L1240.3,362.6 L1241.6,358.9 L1242.5,355.1 L1242.1,350.4 L1243.0,346.6 L1242.4,341.9 L1242.7,337.7 L1244.1,334.3 L1244.3,330.1 L1244.8,326.0 L1244.9,321.7 L1245.4,317.7 L1246.3,313.9 L1247.1,310.1 L1246.8,305.4 L1246.8,300.9 L1248.5,297.6 L1248.8,293.4 L1249.4,289.3 L1249.6,285.1 L1250.9,281.6 L1250.4,276.9 L1251.0,272.9 L1250.4,268.2 L1251.5,264.4 L1252.0,260.3 L1252.8,256.4 L1253.5,252.4 L1253.6,248.0 L1255.6,244.6 L1255.4,239.7 L1256.6,235.8 L1257.8,231.9 L1258.2,227.3 L1260.0,223.8 L1261.1,219.7 L1261.8,215.4 L1263.8,211.9 L1264.1,207.3 L1265.9,203.5 L1267.1,199.2 L1269.6,195.9 L1272.9,199.3 L1274.6,203.3 L1276.2,207.2 L1277.7,211.6 L1277.3,214.8 L1278.8,219.2 L1279.5,223.1 L1281.7,228.1 L1281.8,231.6 L1282.6,235.7 L1283.2,239.7 L1284.8,244.3 L1285.1,248.1 L1285.9,252.3 L1285.5,255.8 L1287.4,260.8 L1287.6,264.7 L1288.2,268.8 L1288.9,273.1 L1288.7,276.8 L1289.1,280.9 L1289.9,285.2 L1290.2,289.2 L1290.4,293.1 L1291.1,297.3 L1291.4,301.2 L1292.5,305.7 L1293.2,309.8 L1293.5,313.7 L1294.9,318.3 L1294.2,321.5 L1295.4,325.9 L1296.9,330.6 L1296.7,334.0 L1296.9,337.8 L1298.8,342.7 L1299.1,346.6 L1299.1,350.2 L1300.7,354.8 L1300.8,358.4 L1301.5,362.4 L1302.8,366.8 L1303.5,370.9 L1304.0,374.8 L1305.2,379.1 L1305.7,383.0 L1307.0,387.4 L1307.8,391.5 L1308.9,395.8 L1309.1,399.5 L1309.5,403.4 L1310.3,407.5 L1311.5,411.8 L1313.1,416.4 L1313.5,420.3 L1313.8,424.3 L1315.4,429.2 L1315.5,433.0 L1317.3,438.1 L1317.7,442.1 L1319.1,446.9 L1319.9,451.3 L1320.4,455.4 L1321.6,460.0 L1321.9,463.9 L1323.2,468.6 L1324.6,473.3 L1326.7,478.6 L1326.2,482.0 L1327.1,486.2 L1327.8,490.3 L1329.8,495.2 L1329.8,498.9 L1331.3,503.5 L1333.0,508.2 L1333.5,512.1 L1335.8,517.3 L1336.8,521.5 L1337.3,525.4 L1338.4,529.8 L1339.3,534.0 L1340.4,538.3 L1342.4,543.2 L1343.6,547.6 L1344.7,552.0 L1345.8,556.3 L1346.6,560.5 L1348.2,565.1 L1348.6,569.0 L1350.4,573.8 L1352.6,578.3 L1354.2,582.4 L1355.1,586.0 L1356.8,590.1 L1359.2,594.7 L1361.0,599.3 L1361.2,602.9 L1363.3,607.7 L1365.2,612.4 L1367.3,617.1 L1368.1,620.6 L1370.5,625.1 L1371.8,629.0 L1374.6,633.8 L1375.5,637.3 L1376.9,641.2 L1378.6,645.0 L1380.9,649.2 L1382.5,652.9 L1383.6,656.2 L1385.9,660.3 L1387.0,663.7 L1389.0,667.7 L1392.3,670.3 L1395.9,673.0 L1399.7,676.0 L1402.4,681.2 L1405.9,686.8 L1408.3,691.3 L1410.0,695.5 L1411.9,699.7 L1419.3,702.1 L1422.0,704.7 L1425.9,708.0 L1431.7,708.3 L1436.5,707.8 L1440.2,711.0 L1443.2,713.7 L1446.4,716.5 L1450.3,719.8 L1454.9,718.9 L1458.4,717.2 L1462.6,716.0 L1466.1,718.2 L1470.0,720.7 L1475.9,722.2 L1480.8,723.0 L1485.2,723.5 L1489.4,722.6 L1493.7,721.8 L1498.3,721.1 L1501.7,722.6 L1506.3,724.7 L1509.6,726.1 L1514.7,723.0 L1520.2,720.1 L1525.1,721.2 L1529.0,721.6 L1532.5,726.0 L1536.5,730.7 L1541.7,731.3 L1547.4,732.2 L1552.6,731.6 L1557.2,730.5 L1564.3,733.6 L1568.2,731.0 L1571.8,728.1 L1576.1,725.7 L1582.9,728.6 L1585.2,731.5 L1588.6,735.2" fill="none" stroke="#1c1c1c" stroke-width="4.6" stroke-linejoin="round" stroke-linecap="round"/>
<text id="ty00" transform="translate(238.76,1809.29) scale(0.9870,1.0377)" font-size="70.00" text-anchor="end">0.0</text>
<text transform="translate(238.76,1523.45) scale(0.9870,1.0377)" font-size="70.00" text-anchor="end">0.2</text>
<text transform="translate(238.76,1237.61) scale(0.9870,1.0377)" font-size="70.00" text-anchor="end">0.4</text>
<text transform="translate(238.76,951.77) scale(0.9870,1.0377)" font-size="70.00" text-anchor="end">0.6</text>
<text transform="translate(238.76,665.93) scale(0.9870,1.0377)" font-size="70.00" text-anchor="end">0.8</text>
<text transform="translate(238.76,380.09) scale(0.9870,1.0377)" font-size="70.00" text-anchor="end">1.0</text>
<text transform="translate(238.76,94.25) scale(0.9870,1.0377)" font-size="70.00" text-anchor="end">1.2</text>
<text id="tx08" transform="translate(295.30,1902.07) scale(1.0176,1.0944)" font-size="70.00" text-anchor="middle">0.8</text>
<text transform="translate(757.92,1902.07) scale(1.0176,1.0944)" font-size="70.00" text-anchor="middle">1.0</text>
<text transform="translate(1220.54,1902.07) scale(1.0176,1.0944)" font-size="70.00" text-anchor="middle">1.2</text>
<text transform="translate(1683.16,1902.07) scale(1.0176,1.0944)" font-size="70.00" text-anchor="middle">1.4</text>
<text transform="translate(2145.78,1902.07) scale(1.0176,1.0944)" font-size="70.00" text-anchor="middle">1.6</text>
<text id="iy00" transform="translate(493.50,799.60) scale(0.9522,1.0712)" font-size="54.00" text-anchor="end">0.0</text>
<text transform="translate(493.50,504.40) scale(0.9522,1.0712)" font-size="54.00" text-anchor="end">0.5</text>
<text transform="translate(493.50,209.20) scale(0.9522,1.0712)" font-size="54.00" text-anchor="end">1.0</text>
<text id="ix08" transform="translate(517.68,911.42) scale(0.9691,1.0390)" font-size="54.00" text-anchor="middle">0.8</text>
<text transform="translate(755.73,911.42) scale(0.9691,1.0390)" font-size="54.00" text-anchor="middle">1.0</text>
<text transform="translate(993.78,911.42) scale(0.9691,1.0390)" font-size="54.00" text-anchor="middle">1.2</text>
<text transform="translate(1231.83,911.42) scale(0.9691,1.0390)" font-size="54.00" text-anchor="middle">1.4</text>
<text transform="translate(1469.88,911.42) scale(0.9691,1.0390)" font-size="54.00" text-anchor="middle">1.6</text>
<text id="xtitle" transform="translate(995.05,1977.66) scale(0.9939,0.9643)" font-size="88.00">Photon energy (eV)</text>
<text id="ytitle" transform="translate(95.06,1387.65) rotate(-90) scale(1.0063,0.9716)" font-size="89.00">PL intensity (arb. units)</text>
<text id="ixtitle" transform="translate(785.33,1001.25) scale(0.9339,1.0267)" font-size="66.00">Photon energy (eV)</text>
<text id="iytitle" transform="translate(397.70,806.96) rotate(-90) scale(0.9580,0.9875)" font-size="66.00">PL intensity (arb. units)</text>
<text id="meas" transform="translate(1841.07,189.17) scale(0.9892,1.0394)" font-size="80.00">Measurement</text>
<text id="cum" transform="translate(1677.17,306.83) scale(0.9515,0.9630)" font-size="80.00">Cumulative fit peak</text>
<text id="300k" transform="translate(1059.07,291.20) scale(0.9570,1.0328)" font-size="53.00">300K</text>
<text id="P1" class="pb" transform="translate(1979.31,806.40) scale(0.8947,1.0103)" font-size="60.00">P1</text>
<text id="P2" class="pb" transform="translate(1935.35,988.40) scale(0.8808,0.9847)" font-size="60.00">P2</text>
<text id="P3" class="pb" transform="translate(1498.30,1613.81) scale(0.9001,0.8927)" font-size="60.00">P3</text>
<text id="P4" class="pb" transform="translate(1341.22,1735.80) scale(0.9346,0.8927)" font-size="60.00">P4</text>
<text id="P5" class="pb" transform="translate(1168.21,1587.83) scale(0.9393,0.9183)" font-size="60.00">P5</text>
<text id="P6" class="pb" transform="translate(853.22,1756.72) scale(0.9174,0.8526)" font-size="60.00">P6</text>
<text id="P7" class="pb" transform="translate(675.20,1662.79) scale(0.9244,0.9439)" font-size="60.00">P7</text>
<text id="P8" class="pb" transform="translate(411.13,1719.36) scale(0.9519,0.8698)" font-size="60.00">P8</text>
</svg></body></html>
